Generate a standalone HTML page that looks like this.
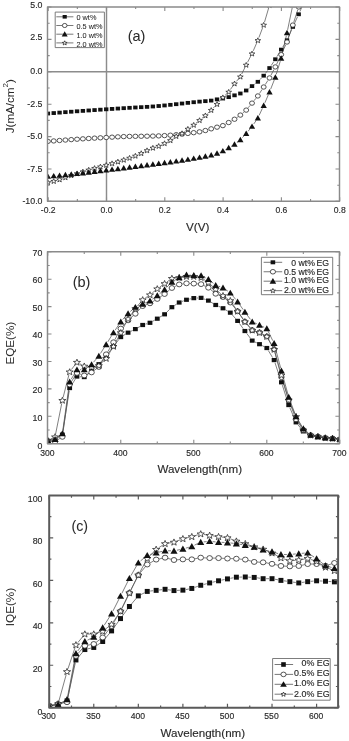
<!DOCTYPE html><html><head><meta charset="utf-8"><style>html,body{margin:0;padding:0;background:#fff;width:349px;height:741px;overflow:hidden}svg{display:block;will-change:transform}</style></head><body>
<svg width="349" height="741" viewBox="0 0 349 741" font-family='"Liberation Sans", sans-serif' fill="#2a2a2a" stroke-linejoin="round">
<defs><clipPath id="ca"><rect x="47.5" y="6.9" width="292.0" height="194.3"/></clipPath></defs>
<line x1="47.5" y1="71.80" x2="339.5" y2="71.80" stroke="#8c8c8c" stroke-width="1.45"/>
<line x1="106.50" y1="6.9" x2="106.50" y2="201.2" stroke="#8c8c8c" stroke-width="1.45"/>
<g clip-path="url(#ca)">
<path d="M243.02 92.12L243.52 91.87M248.59 88.70L249.62 87.92M254.43 84.34L255.44 83.59M259.92 79.63L261.61 77.86M265.51 73.30L267.69 70.44M271.17 65.56L273.69 61.75M276.90 56.68L279.63 52.18M282.77 47.07L285.42 42.82M288.21 37.53L291.64 29.65M294.10 24.18L297.42 17.00M299.90 11.53L303.29 3.95" stroke="#555" stroke-width="0.75" fill="none"/>
<path d="M225.51 124.22L226.04 123.94M231.30 121.05L231.91 120.71M236.97 117.50L237.91 116.84M242.63 113.15L243.91 112.06M248.11 107.80L250.10 105.43M253.91 100.80L255.96 98.28M259.49 93.44L262.05 89.52M265.31 84.49L267.89 80.48M270.92 75.31L273.95 69.56M276.63 64.20L279.89 57.33M282.44 51.89L285.75 44.74M287.99 39.18L291.87 27.91M293.77 22.22L297.75 9.88" stroke="#555" stroke-width="0.75" fill="none"/>
<path d="M219.80 152.20L220.09 152.08M225.50 149.49L226.06 149.18M231.28 146.23L231.94 145.84M236.90 142.48L237.98 141.65M242.41 137.63L244.14 135.79M248.08 131.27L250.13 128.74M253.75 123.96L256.13 120.58M259.12 115.40L262.42 108.31M264.87 102.83L268.33 94.79M270.62 89.25L274.25 80.03M276.23 74.37L280.30 61.14M281.85 55.35L286.34 35.75M287.62 29.89L292.23 7.72" stroke="#555" stroke-width="0.75" fill="none"/>
<path d="M138.12 154.64L138.47 154.48M143.90 151.93L144.35 151.71M149.80 149.20L150.12 149.07M161.42 144.79L161.82 144.60M167.21 141.97L167.70 141.72M172.81 138.61L173.77 137.92M178.91 134.87L179.33 134.66M184.43 131.55L185.48 130.75M190.35 127.25L191.22 126.66M196.04 123.09L197.20 122.16M201.85 118.37L203.05 117.39M207.57 113.45L208.99 112.15M213.29 107.98L214.93 106.30M218.99 101.88L220.89 99.69M225.04 95.37L226.51 93.99M230.42 89.48L232.80 86.09M236.46 81.34L238.42 79.00M241.69 74.02L244.86 67.61M247.57 62.26L250.64 56.30M253.23 50.89L256.65 43.09M258.91 37.54L262.62 27.75M264.53 22.07L268.67 8.00" stroke="#555" stroke-width="0.75" fill="none"/>
<rect x="45.71" y="111.62" width="4.37" height="3.80" fill="#111"/>
<rect x="51.55" y="111.16" width="4.37" height="3.80" fill="#111"/>
<rect x="57.38" y="110.71" width="4.37" height="3.80" fill="#111"/>
<rect x="63.21" y="110.26" width="4.37" height="3.80" fill="#111"/>
<rect x="69.04" y="109.82" width="4.37" height="3.80" fill="#111"/>
<rect x="74.88" y="109.39" width="4.37" height="3.80" fill="#111"/>
<rect x="80.71" y="108.98" width="4.37" height="3.80" fill="#111"/>
<rect x="86.54" y="108.57" width="4.37" height="3.80" fill="#111"/>
<rect x="92.37" y="108.17" width="4.37" height="3.80" fill="#111"/>
<rect x="98.20" y="107.78" width="4.37" height="3.80" fill="#111"/>
<rect x="104.03" y="107.40" width="4.37" height="3.80" fill="#111"/>
<rect x="109.87" y="107.02" width="4.37" height="3.80" fill="#111"/>
<rect x="115.70" y="106.65" width="4.37" height="3.80" fill="#111"/>
<rect x="121.53" y="106.28" width="4.37" height="3.80" fill="#111"/>
<rect x="127.36" y="105.93" width="4.37" height="3.80" fill="#111"/>
<rect x="133.19" y="105.59" width="4.37" height="3.80" fill="#111"/>
<rect x="139.03" y="105.28" width="4.37" height="3.80" fill="#111"/>
<rect x="144.86" y="104.96" width="4.37" height="3.80" fill="#111"/>
<rect x="150.69" y="104.58" width="4.37" height="3.80" fill="#111"/>
<rect x="156.52" y="104.11" width="4.37" height="3.80" fill="#111"/>
<rect x="162.35" y="103.56" width="4.37" height="3.80" fill="#111"/>
<rect x="168.19" y="102.94" width="4.37" height="3.80" fill="#111"/>
<rect x="174.02" y="102.29" width="4.37" height="3.80" fill="#111"/>
<rect x="179.85" y="101.62" width="4.37" height="3.80" fill="#111"/>
<rect x="185.68" y="100.96" width="4.37" height="3.80" fill="#111"/>
<rect x="191.51" y="100.32" width="4.37" height="3.80" fill="#111"/>
<rect x="197.35" y="99.73" width="4.37" height="3.80" fill="#111"/>
<rect x="203.18" y="99.25" width="4.37" height="3.80" fill="#111"/>
<rect x="209.01" y="98.70" width="4.37" height="3.80" fill="#111"/>
<rect x="214.84" y="97.46" width="4.37" height="3.80" fill="#111"/>
<rect x="220.68" y="96.60" width="4.37" height="3.80" fill="#111"/>
<rect x="226.51" y="95.22" width="4.37" height="3.80" fill="#111"/>
<rect x="232.34" y="93.44" width="4.37" height="3.80" fill="#111"/>
<rect x="238.17" y="91.59" width="4.37" height="3.80" fill="#111"/>
<rect x="244.00" y="88.59" width="4.37" height="3.80" fill="#111"/>
<rect x="249.84" y="84.22" width="4.37" height="3.80" fill="#111"/>
<rect x="255.67" y="79.91" width="4.37" height="3.80" fill="#111"/>
<rect x="261.50" y="73.79" width="4.37" height="3.80" fill="#111"/>
<rect x="267.33" y="66.16" width="4.37" height="3.80" fill="#111"/>
<rect x="273.16" y="57.35" width="4.37" height="3.80" fill="#111"/>
<rect x="279.00" y="47.71" width="4.37" height="3.80" fill="#111"/>
<rect x="284.83" y="38.38" width="4.37" height="3.80" fill="#111"/>
<rect x="290.66" y="25.00" width="4.37" height="3.80" fill="#111"/>
<rect x="296.49" y="12.37" width="4.37" height="3.80" fill="#111"/>
<ellipse cx="47.90" cy="141.41" rx="2.47" ry="2.18" fill="#fff" stroke="#2a2a2a" stroke-width="0.8"/>
<ellipse cx="53.73" cy="140.94" rx="2.47" ry="2.18" fill="#fff" stroke="#2a2a2a" stroke-width="0.8"/>
<ellipse cx="59.56" cy="140.48" rx="2.47" ry="2.18" fill="#fff" stroke="#2a2a2a" stroke-width="0.8"/>
<ellipse cx="65.40" cy="140.05" rx="2.47" ry="2.18" fill="#fff" stroke="#2a2a2a" stroke-width="0.8"/>
<ellipse cx="71.23" cy="139.63" rx="2.47" ry="2.18" fill="#fff" stroke="#2a2a2a" stroke-width="0.8"/>
<ellipse cx="77.06" cy="139.23" rx="2.47" ry="2.18" fill="#fff" stroke="#2a2a2a" stroke-width="0.8"/>
<ellipse cx="82.89" cy="138.85" rx="2.47" ry="2.18" fill="#fff" stroke="#2a2a2a" stroke-width="0.8"/>
<ellipse cx="88.72" cy="138.49" rx="2.47" ry="2.18" fill="#fff" stroke="#2a2a2a" stroke-width="0.8"/>
<ellipse cx="94.56" cy="138.14" rx="2.47" ry="2.18" fill="#fff" stroke="#2a2a2a" stroke-width="0.8"/>
<ellipse cx="100.39" cy="137.81" rx="2.47" ry="2.18" fill="#fff" stroke="#2a2a2a" stroke-width="0.8"/>
<ellipse cx="106.22" cy="137.49" rx="2.47" ry="2.18" fill="#fff" stroke="#2a2a2a" stroke-width="0.8"/>
<ellipse cx="112.05" cy="137.17" rx="2.47" ry="2.18" fill="#fff" stroke="#2a2a2a" stroke-width="0.8"/>
<ellipse cx="117.88" cy="136.86" rx="2.47" ry="2.18" fill="#fff" stroke="#2a2a2a" stroke-width="0.8"/>
<ellipse cx="123.72" cy="136.59" rx="2.47" ry="2.18" fill="#fff" stroke="#2a2a2a" stroke-width="0.8"/>
<ellipse cx="129.55" cy="136.41" rx="2.47" ry="2.18" fill="#fff" stroke="#2a2a2a" stroke-width="0.8"/>
<ellipse cx="135.38" cy="136.31" rx="2.47" ry="2.18" fill="#fff" stroke="#2a2a2a" stroke-width="0.8"/>
<ellipse cx="141.21" cy="136.25" rx="2.47" ry="2.18" fill="#fff" stroke="#2a2a2a" stroke-width="0.8"/>
<ellipse cx="147.04" cy="136.19" rx="2.47" ry="2.18" fill="#fff" stroke="#2a2a2a" stroke-width="0.8"/>
<ellipse cx="152.88" cy="136.08" rx="2.47" ry="2.18" fill="#fff" stroke="#2a2a2a" stroke-width="0.8"/>
<ellipse cx="158.71" cy="135.89" rx="2.47" ry="2.18" fill="#fff" stroke="#2a2a2a" stroke-width="0.8"/>
<ellipse cx="164.54" cy="135.59" rx="2.47" ry="2.18" fill="#fff" stroke="#2a2a2a" stroke-width="0.8"/>
<ellipse cx="170.37" cy="135.19" rx="2.47" ry="2.18" fill="#fff" stroke="#2a2a2a" stroke-width="0.8"/>
<ellipse cx="176.20" cy="134.69" rx="2.47" ry="2.18" fill="#fff" stroke="#2a2a2a" stroke-width="0.8"/>
<ellipse cx="182.04" cy="134.11" rx="2.47" ry="2.18" fill="#fff" stroke="#2a2a2a" stroke-width="0.8"/>
<ellipse cx="187.87" cy="133.44" rx="2.47" ry="2.18" fill="#fff" stroke="#2a2a2a" stroke-width="0.8"/>
<ellipse cx="193.70" cy="132.68" rx="2.47" ry="2.18" fill="#fff" stroke="#2a2a2a" stroke-width="0.8"/>
<ellipse cx="199.53" cy="131.85" rx="2.47" ry="2.18" fill="#fff" stroke="#2a2a2a" stroke-width="0.8"/>
<ellipse cx="205.36" cy="130.53" rx="2.47" ry="2.18" fill="#fff" stroke="#2a2a2a" stroke-width="0.8"/>
<ellipse cx="211.20" cy="128.82" rx="2.47" ry="2.18" fill="#fff" stroke="#2a2a2a" stroke-width="0.8"/>
<ellipse cx="217.03" cy="127.17" rx="2.47" ry="2.18" fill="#fff" stroke="#2a2a2a" stroke-width="0.8"/>
<ellipse cx="222.86" cy="125.63" rx="2.47" ry="2.18" fill="#fff" stroke="#2a2a2a" stroke-width="0.8"/>
<ellipse cx="228.69" cy="122.53" rx="2.47" ry="2.18" fill="#fff" stroke="#2a2a2a" stroke-width="0.8"/>
<ellipse cx="234.52" cy="119.23" rx="2.47" ry="2.18" fill="#fff" stroke="#2a2a2a" stroke-width="0.8"/>
<ellipse cx="240.36" cy="115.10" rx="2.47" ry="2.18" fill="#fff" stroke="#2a2a2a" stroke-width="0.8"/>
<ellipse cx="246.19" cy="110.11" rx="2.47" ry="2.18" fill="#fff" stroke="#2a2a2a" stroke-width="0.8"/>
<ellipse cx="252.02" cy="103.12" rx="2.47" ry="2.18" fill="#fff" stroke="#2a2a2a" stroke-width="0.8"/>
<ellipse cx="257.85" cy="95.95" rx="2.47" ry="2.18" fill="#fff" stroke="#2a2a2a" stroke-width="0.8"/>
<ellipse cx="263.68" cy="87.01" rx="2.47" ry="2.18" fill="#fff" stroke="#2a2a2a" stroke-width="0.8"/>
<ellipse cx="269.52" cy="77.96" rx="2.47" ry="2.18" fill="#fff" stroke="#2a2a2a" stroke-width="0.8"/>
<ellipse cx="275.35" cy="66.91" rx="2.47" ry="2.18" fill="#fff" stroke="#2a2a2a" stroke-width="0.8"/>
<ellipse cx="281.18" cy="54.62" rx="2.47" ry="2.18" fill="#fff" stroke="#2a2a2a" stroke-width="0.8"/>
<ellipse cx="287.01" cy="42.01" rx="2.47" ry="2.18" fill="#fff" stroke="#2a2a2a" stroke-width="0.8"/>
<ellipse cx="292.84" cy="25.07" rx="2.47" ry="2.18" fill="#fff" stroke="#2a2a2a" stroke-width="0.8"/>
<ellipse cx="298.68" cy="7.02" rx="2.47" ry="2.18" fill="#fff" stroke="#2a2a2a" stroke-width="0.8"/>
<polygon points="47.90,179.87 48.64,181.67 50.75,181.75 49.10,182.95 49.66,184.79 47.90,183.74 46.14,184.79 46.70,182.95 45.05,181.75 47.16,181.67" fill="#fff" stroke="#222" stroke-width="0.75"/>
<polygon points="53.73,178.61 54.47,180.40 56.58,180.49 54.93,181.69 55.49,183.53 53.73,182.48 51.97,183.53 52.53,181.69 50.89,180.49 52.99,180.40" fill="#fff" stroke="#222" stroke-width="0.75"/>
<polygon points="59.56,177.01 60.31,178.80 62.41,178.89 60.76,180.08 61.32,181.93 59.56,180.88 57.81,181.93 58.36,180.08 56.72,178.89 58.82,178.80" fill="#fff" stroke="#222" stroke-width="0.75"/>
<polygon points="65.40,174.94 66.14,176.73 68.24,176.82 66.60,178.02 67.15,179.86 65.40,178.81 63.64,179.86 64.20,178.02 62.55,176.82 64.65,176.73" fill="#fff" stroke="#222" stroke-width="0.75"/>
<polygon points="71.23,172.87 71.97,174.66 74.07,174.75 72.43,175.94 72.99,177.79 71.23,176.74 69.47,177.79 70.03,175.94 68.38,174.75 70.49,174.66" fill="#fff" stroke="#222" stroke-width="0.75"/>
<polygon points="77.06,170.95 77.80,172.74 79.91,172.83 78.26,174.02 78.82,175.87 77.06,174.82 75.30,175.87 75.86,174.02 74.21,172.83 76.32,172.74" fill="#fff" stroke="#222" stroke-width="0.75"/>
<polygon points="82.89,169.10 83.63,170.89 85.74,170.98 84.09,172.18 84.65,174.02 82.89,172.97 81.13,174.02 81.69,172.18 80.05,170.98 82.15,170.89" fill="#fff" stroke="#222" stroke-width="0.75"/>
<polygon points="88.72,167.31 89.47,169.10 91.57,169.19 89.92,170.38 90.48,172.23 88.72,171.18 86.97,172.23 87.52,170.38 85.88,169.19 87.98,169.10" fill="#fff" stroke="#222" stroke-width="0.75"/>
<polygon points="94.56,165.63 95.30,167.42 97.40,167.51 95.76,168.70 96.31,170.55 94.56,169.50 92.80,170.55 93.36,168.70 91.71,167.51 93.81,167.42" fill="#fff" stroke="#222" stroke-width="0.75"/>
<polygon points="100.39,164.13 101.13,165.93 103.23,166.01 101.59,167.21 102.15,169.05 100.39,168.00 98.63,169.05 99.19,167.21 97.54,166.01 99.65,165.93" fill="#fff" stroke="#222" stroke-width="0.75"/>
<polygon points="106.22,162.52 106.96,164.32 109.07,164.40 107.42,165.60 107.98,167.45 106.22,166.39 104.46,167.45 105.02,165.60 103.37,164.40 105.48,164.32" fill="#fff" stroke="#222" stroke-width="0.75"/>
<polygon points="112.05,160.88 112.79,162.67 114.90,162.76 113.25,163.95 113.81,165.80 112.05,164.75 110.29,165.80 110.85,163.95 109.21,162.76 111.31,162.67" fill="#fff" stroke="#222" stroke-width="0.75"/>
<polygon points="117.88,159.17 118.63,160.97 120.73,161.05 119.08,162.25 119.64,164.10 117.88,163.04 116.13,164.10 116.68,162.25 115.04,161.05 117.14,160.97" fill="#fff" stroke="#222" stroke-width="0.75"/>
<polygon points="123.72,157.37 124.46,159.16 126.56,159.25 124.92,160.45 125.47,162.29 123.72,161.24 121.96,162.29 122.52,160.45 120.87,159.25 122.97,159.16" fill="#fff" stroke="#222" stroke-width="0.75"/>
<polygon points="129.55,155.44 130.29,157.23 132.39,157.32 130.75,158.51 131.31,160.36 129.55,159.31 127.79,160.36 128.35,158.51 126.70,157.32 128.81,157.23" fill="#fff" stroke="#222" stroke-width="0.75"/>
<polygon points="135.38,153.34 136.12,155.13 138.23,155.22 136.58,156.41 137.14,158.26 135.38,157.20 133.62,158.26 134.18,156.41 132.53,155.22 134.64,155.13" fill="#fff" stroke="#222" stroke-width="0.75"/>
<polygon points="141.21,150.74 141.95,152.53 144.06,152.62 142.41,153.81 142.97,155.66 141.21,154.61 139.45,155.66 140.01,153.81 138.37,152.62 140.47,152.53" fill="#fff" stroke="#222" stroke-width="0.75"/>
<polygon points="147.04,147.87 147.79,149.66 149.89,149.75 148.24,150.94 148.80,152.79 147.04,151.74 145.29,152.79 145.84,150.94 144.20,149.75 146.30,149.66" fill="#fff" stroke="#222" stroke-width="0.75"/>
<polygon points="152.88,145.36 153.62,147.15 155.72,147.24 154.08,148.43 154.63,150.28 152.88,149.23 151.12,150.28 151.68,148.43 150.03,147.24 152.13,147.15" fill="#fff" stroke="#222" stroke-width="0.75"/>
<polygon points="158.71,143.54 159.45,145.33 161.55,145.42 159.91,146.61 160.47,148.46 158.71,147.41 156.95,148.46 157.51,146.61 155.86,145.42 157.97,145.33" fill="#fff" stroke="#222" stroke-width="0.75"/>
<polygon points="164.54,140.81 165.28,142.60 167.39,142.69 165.74,143.88 166.30,145.73 164.54,144.68 162.78,145.73 163.34,143.88 161.69,142.69 163.80,142.60" fill="#fff" stroke="#222" stroke-width="0.75"/>
<polygon points="170.37,137.84 171.11,139.63 173.22,139.72 171.57,140.91 172.13,142.76 170.37,141.70 168.61,142.76 169.17,140.91 167.53,139.72 169.63,139.63" fill="#fff" stroke="#222" stroke-width="0.75"/>
<polygon points="176.20,133.65 176.95,135.44 179.05,135.53 177.40,136.73 177.96,138.57 176.20,137.52 174.45,138.57 175.00,136.73 173.36,135.53 175.46,135.44" fill="#fff" stroke="#222" stroke-width="0.75"/>
<polygon points="182.04,130.84 182.78,132.63 184.88,132.72 183.24,133.91 183.79,135.76 182.04,134.70 180.28,135.76 180.84,133.91 179.19,132.72 181.29,132.63" fill="#fff" stroke="#222" stroke-width="0.75"/>
<polygon points="187.87,126.42 188.61,128.21 190.71,128.30 189.07,129.49 189.63,131.34 187.87,130.29 186.11,131.34 186.67,129.49 185.02,128.30 187.13,128.21" fill="#fff" stroke="#222" stroke-width="0.75"/>
<polygon points="193.70,122.45 194.44,124.25 196.55,124.33 194.90,125.53 195.46,127.37 193.70,126.32 191.94,127.37 192.50,125.53 190.85,124.33 192.96,124.25" fill="#fff" stroke="#222" stroke-width="0.75"/>
<polygon points="199.53,117.75 200.27,119.55 202.38,119.63 200.73,120.83 201.29,122.67 199.53,121.62 197.77,122.67 198.33,120.83 196.69,119.63 198.79,119.55" fill="#fff" stroke="#222" stroke-width="0.75"/>
<polygon points="205.36,112.96 206.11,114.76 208.21,114.84 206.56,116.04 207.12,117.89 205.36,116.83 203.61,117.89 204.16,116.04 202.52,114.84 204.62,114.76" fill="#fff" stroke="#222" stroke-width="0.75"/>
<polygon points="211.20,107.60 211.94,109.39 214.04,109.48 212.40,110.68 212.95,112.52 211.20,111.47 209.44,112.52 210.00,110.68 208.35,109.48 210.45,109.39" fill="#fff" stroke="#222" stroke-width="0.75"/>
<polygon points="217.03,101.63 217.77,103.42 219.87,103.51 218.23,104.70 218.79,106.55 217.03,105.50 215.27,106.55 215.83,104.70 214.18,103.51 216.29,103.42" fill="#fff" stroke="#222" stroke-width="0.75"/>
<polygon points="222.86,94.91 223.60,96.70 225.71,96.79 224.06,97.98 224.62,99.83 222.86,98.78 221.10,99.83 221.66,97.98 220.01,96.79 222.12,96.70" fill="#fff" stroke="#222" stroke-width="0.75"/>
<polygon points="228.69,89.42 229.43,91.21 231.54,91.30 229.89,92.49 230.45,94.34 228.69,93.28 226.93,94.34 227.49,92.49 225.85,91.30 227.95,91.21" fill="#fff" stroke="#222" stroke-width="0.75"/>
<polygon points="234.52,81.12 235.27,82.91 237.37,83.00 235.72,84.19 236.28,86.04 234.52,84.98 232.77,86.04 233.32,84.19 231.68,83.00 233.78,82.91" fill="#fff" stroke="#222" stroke-width="0.75"/>
<polygon points="240.36,74.19 241.10,75.98 243.20,76.07 241.56,77.26 242.11,79.11 240.36,78.06 238.60,79.11 239.16,77.26 237.51,76.07 239.61,75.98" fill="#fff" stroke="#222" stroke-width="0.75"/>
<polygon points="246.19,62.41 246.93,64.20 249.03,64.28 247.39,65.48 247.95,67.33 246.19,66.27 244.43,67.33 244.99,65.48 243.34,64.28 245.45,64.20" fill="#fff" stroke="#222" stroke-width="0.75"/>
<polygon points="252.02,51.12 252.76,52.91 254.87,53.00 253.22,54.19 253.78,56.04 252.02,54.99 250.26,56.04 250.82,54.19 249.17,53.00 251.28,52.91" fill="#fff" stroke="#222" stroke-width="0.75"/>
<polygon points="257.85,37.82 258.59,39.62 260.70,39.70 259.05,40.90 259.61,42.74 257.85,41.69 256.09,42.74 256.65,40.90 255.01,39.70 257.11,39.62" fill="#fff" stroke="#222" stroke-width="0.75"/>
<polygon points="263.68,22.43 264.43,24.22 266.53,24.31 264.88,25.50 265.44,27.35 263.68,26.30 261.93,27.35 262.48,25.50 260.84,24.31 262.94,24.22" fill="#fff" stroke="#222" stroke-width="0.75"/>
<polygon points="269.52,2.60 270.26,4.40 272.36,4.48 270.72,5.68 271.27,7.52 269.52,6.47 267.76,7.52 268.32,5.68 266.67,4.48 268.77,4.40" fill="#fff" stroke="#222" stroke-width="0.75"/>
<path d="M47.90 173.43L51.03 178.85L44.77 178.85Z" fill="#111"/>
<path d="M53.73 172.94L56.87 178.35L50.60 178.35Z" fill="#111"/>
<path d="M59.56 172.41L62.70 177.83L56.43 177.83Z" fill="#111"/>
<path d="M65.40 171.86L68.53 177.27L62.26 177.27Z" fill="#111"/>
<path d="M71.23 171.27L74.36 176.68L68.09 176.68Z" fill="#111"/>
<path d="M77.06 170.64L80.20 176.05L73.92 176.05Z" fill="#111"/>
<path d="M82.89 169.97L86.03 175.38L79.76 175.38Z" fill="#111"/>
<path d="M88.72 169.27L91.86 174.69L85.59 174.69Z" fill="#111"/>
<path d="M94.56 168.56L97.69 173.98L91.42 173.98Z" fill="#111"/>
<path d="M100.39 167.85L103.52 173.27L97.25 173.27Z" fill="#111"/>
<path d="M106.22 167.15L109.36 172.57L103.08 172.57Z" fill="#111"/>
<path d="M112.05 166.46L115.19 171.87L108.92 171.87Z" fill="#111"/>
<path d="M117.88 165.76L121.02 171.17L114.75 171.17Z" fill="#111"/>
<path d="M123.72 165.04L126.85 170.46L120.58 170.46Z" fill="#111"/>
<path d="M129.55 164.31L132.68 169.72L126.41 169.72Z" fill="#111"/>
<path d="M135.38 163.54L138.51 168.96L132.25 168.96Z" fill="#111"/>
<path d="M141.21 162.77L144.35 168.19L138.08 168.19Z" fill="#111"/>
<path d="M147.04 162.02L150.18 167.44L143.91 167.44Z" fill="#111"/>
<path d="M152.88 161.28L156.01 166.70L149.74 166.70Z" fill="#111"/>
<path d="M158.71 160.54L161.84 165.95L155.57 165.95Z" fill="#111"/>
<path d="M164.54 159.78L167.67 165.20L161.41 165.20Z" fill="#111"/>
<path d="M170.37 159.00L173.51 164.42L167.24 164.42Z" fill="#111"/>
<path d="M176.20 158.19L179.34 163.60L173.07 163.60Z" fill="#111"/>
<path d="M182.04 157.33L185.17 162.75L178.90 162.75Z" fill="#111"/>
<path d="M187.87 156.42L191.00 161.84L184.73 161.84Z" fill="#111"/>
<path d="M193.70 155.45L196.83 160.86L190.56 160.86Z" fill="#111"/>
<path d="M199.53 154.40L202.67 159.81L196.40 159.81Z" fill="#111"/>
<path d="M205.36 153.27L208.50 158.68L202.23 158.68Z" fill="#111"/>
<path d="M211.20 152.04L214.33 157.45L208.06 157.45Z" fill="#111"/>
<path d="M217.03 150.35L220.16 155.77L213.89 155.77Z" fill="#111"/>
<path d="M222.86 147.91L226.00 153.33L219.73 153.33Z" fill="#111"/>
<path d="M228.69 144.74L231.83 150.16L225.56 150.16Z" fill="#111"/>
<path d="M234.52 141.31L237.66 146.72L231.39 146.72Z" fill="#111"/>
<path d="M240.36 136.81L243.49 142.23L237.22 142.23Z" fill="#111"/>
<path d="M246.19 130.59L249.32 136.01L243.05 136.01Z" fill="#111"/>
<path d="M252.02 123.40L255.16 128.82L248.89 128.82Z" fill="#111"/>
<path d="M257.85 115.12L260.99 120.53L254.72 120.53Z" fill="#111"/>
<path d="M263.68 102.58L266.82 108.00L260.55 108.00Z" fill="#111"/>
<path d="M269.52 89.03L272.65 94.44L266.38 94.44Z" fill="#111"/>
<path d="M275.35 74.23L278.48 79.64L272.21 79.64Z" fill="#111"/>
<path d="M281.18 55.27L284.31 60.68L278.05 60.68Z" fill="#111"/>
<path d="M287.01 29.82L290.15 35.23L283.88 35.23Z" fill="#111"/>
<path d="M292.84 1.78L295.98 7.19L289.71 7.19Z" fill="#111"/>
</g>
<rect x="47.5" y="6.9" width="292.0" height="194.29999999999998" fill="none" stroke="#8a8a8a" stroke-width="1.45"/>
<path d="M48.20 201.2v-4M48.20 6.9v4M77.35 201.2v-2.2M77.35 6.9v2.2M106.50 201.2v-4M106.50 6.9v4M135.65 201.2v-2.2M135.65 6.9v2.2M164.80 201.2v-4M164.80 6.9v4M193.95 201.2v-2.2M193.95 6.9v2.2M223.10 201.2v-4M223.10 6.9v4M252.25 201.2v-2.2M252.25 6.9v2.2M281.40 201.2v-4M281.40 6.9v4M310.55 201.2v-2.2M310.55 6.9v2.2M339.70 201.2v-4M339.70 6.9v4M47.5 201.40h4M339.5 201.40h-4M47.5 185.20h2.2M339.5 185.20h-2.2M47.5 169.00h4M339.5 169.00h-4M47.5 152.80h2.2M339.5 152.80h-2.2M47.5 136.60h4M339.5 136.60h-4M47.5 120.40h2.2M339.5 120.40h-2.2M47.5 104.20h4M339.5 104.20h-4M47.5 88.00h2.2M339.5 88.00h-2.2M47.5 71.80h4M339.5 71.80h-4M47.5 55.60h2.2M339.5 55.60h-2.2M47.5 39.40h4M339.5 39.40h-4M47.5 23.20h2.2M339.5 23.20h-2.2M47.5 7.00h4M339.5 7.00h-4" stroke="#8a8a8a" stroke-width="1.1" fill="none"/>
<text x="42.5" y="204.3" font-size="8.8" text-anchor="end" stroke="#2a2a2a" stroke-width="0.15" >-10.0</text>
<text x="42.5" y="171.7" font-size="8.8" text-anchor="end" stroke="#2a2a2a" stroke-width="0.15" >-7.5</text>
<text x="42.5" y="138.6" font-size="8.8" text-anchor="end" stroke="#2a2a2a" stroke-width="0.15" >-5.0</text>
<text x="42.5" y="107.0" font-size="8.8" text-anchor="end" stroke="#2a2a2a" stroke-width="0.15" >-2.5</text>
<text x="42.5" y="73.6" font-size="8.8" text-anchor="end" stroke="#2a2a2a" stroke-width="0.15" >0.0</text>
<text x="42.5" y="39.9" font-size="8.8" text-anchor="end" stroke="#2a2a2a" stroke-width="0.15" >2.5</text>
<text x="42.5" y="7.9" font-size="8.8" text-anchor="end" stroke="#2a2a2a" stroke-width="0.15" >5.0</text>
<text x="48.2" y="213.3" font-size="8.6" text-anchor="middle" stroke="#2a2a2a" stroke-width="0.15" >-0.2</text>
<text x="106.5" y="213.3" font-size="8.6" text-anchor="middle" stroke="#2a2a2a" stroke-width="0.15" >0.0</text>
<text x="164.8" y="213.3" font-size="8.6" text-anchor="middle" stroke="#2a2a2a" stroke-width="0.15" >0.2</text>
<text x="223.1" y="213.3" font-size="8.6" text-anchor="middle" stroke="#2a2a2a" stroke-width="0.15" >0.4</text>
<text x="281.4" y="213.3" font-size="8.6" text-anchor="middle" stroke="#2a2a2a" stroke-width="0.15" >0.6</text>
<text x="339.7" y="213.3" font-size="8.6" text-anchor="middle" stroke="#2a2a2a" stroke-width="0.15" >0.8</text>
<text x="197.7" y="230.9" font-size="11.7" text-anchor="middle" stroke="#2a2a2a" stroke-width="0.15" >V(V)</text>
<text transform="translate(13.6,106.2) rotate(-90)" font-size="11.6" text-anchor="middle">J(mA/cm<tspan font-size="8" dy="-6">2</tspan><tspan dy="6">)</tspan></text>
<text x="136.6" y="41.0" font-size="14.5" text-anchor="middle" stroke="#2a2a2a" stroke-width="0.05" >(a)</text>
<rect x="55.2" y="12.1" width="49.2" height="35.5" fill="#fff" stroke="#6e6e6e" stroke-width="0.9"/>
<line x1="56.3" y1="16.80" x2="73.4" y2="16.80" stroke="#555" stroke-width="0.8"/>
<rect x="62.63" y="15.00" width="4.14" height="3.60" fill="#111"/>
<text x="76.5" y="19.50" font-size="7.3" text-anchor="start" stroke="#2a2a2a" stroke-width="0.06" >0 wt%</text>
<line x1="56.3" y1="25.50" x2="73.4" y2="25.50" stroke="#555" stroke-width="0.8"/>
<ellipse cx="64.70" cy="25.50" rx="2.34" ry="2.07" fill="#fff" stroke="#2a2a2a" stroke-width="0.8"/>
<text x="76.5" y="28.60" font-size="7.3" text-anchor="start" stroke="#2a2a2a" stroke-width="0.06" >0.5 wt%</text>
<line x1="56.3" y1="34.20" x2="73.4" y2="34.20" stroke="#555" stroke-width="0.8"/>
<path d="M64.70 31.34L67.67 36.47L61.73 36.47Z" fill="#111"/>
<text x="76.5" y="37.70" font-size="7.3" text-anchor="start" stroke="#2a2a2a" stroke-width="0.06" >1.0 wt%</text>
<line x1="56.3" y1="42.90" x2="73.4" y2="42.90" stroke="#555" stroke-width="0.8"/>
<polygon points="64.70,40.80 65.33,42.31 67.11,42.39 65.72,43.40 66.19,44.96 64.70,44.07 63.21,44.96 63.68,43.40 62.29,42.39 64.07,42.31" fill="#fff" stroke="#222" stroke-width="0.75"/>
<text x="76.5" y="46.60" font-size="7.3" text-anchor="start" stroke="#2a2a2a" stroke-width="0.06" >2.0 wt%</text>
<defs><clipPath id="cb"><rect x="47.5" y="251.8" width="291.9" height="191.9"/></clipPath></defs>
<g clip-path="url(#cb)">
<path d="M50.70 440.41L52.10 440.14M57.54 437.91L59.87 436.33M62.82 431.69L69.19 391.01M71.26 385.52L75.35 379.07M79.95 376.76L81.27 376.86M86.57 375.17L89.25 372.96M93.75 369.00L96.68 366.25M100.86 361.96L104.17 358.22M107.98 353.59L111.65 348.77M115.32 344.02L118.92 339.42M123.34 335.51L125.50 334.22M130.77 331.36L132.68 330.42M137.99 327.64L140.06 326.47M145.55 324.13L147.10 323.67M152.59 321.33L154.67 320.16M159.85 317.15L162.01 315.85M166.73 312.21L169.74 309.27M174.41 305.56L176.66 304.13M181.99 301.46L183.68 300.83M189.41 299.12L190.86 298.79M196.79 298.02L198.09 297.97M203.90 298.91L205.59 299.54M210.97 302.14L213.12 303.44M218.43 306.22L220.26 307.04M225.57 309.82L227.73 311.11M232.29 314.90L235.61 318.64M239.35 323.32L243.15 328.59M246.72 333.41L250.39 338.23M254.90 341.94L256.81 342.87M262.16 345.58L264.15 346.63M268.36 350.59L272.56 357.52M275.05 362.94L280.48 379.44M282.33 385.15L287.80 402.19M289.88 407.81L294.85 419.55M297.90 424.65L301.44 429.03M305.93 432.84L308.01 434.00M313.57 436.03L314.98 436.29M320.89 437.29L322.26 437.50M328.22 438.17L329.54 438.27M335.51 438.83L336.85 438.98" stroke="#555" stroke-width="0.75" fill="none"/>
<path d="M50.74 441.18L52.06 441.28M57.58 439.89L59.83 438.46M62.77 433.88L69.24 387.46M71.26 381.95L75.35 375.50M79.80 373.93L81.42 374.48M87.03 374.29L88.79 373.57M93.96 370.62L96.47 368.74M100.37 364.34L104.66 356.93M107.72 351.76L111.91 344.83M114.88 339.62L119.36 331.21M122.76 326.32L126.08 322.58M130.30 318.33L133.15 315.76M137.44 311.58L140.61 308.25M145.48 305.03L147.17 304.39M152.55 301.79L154.71 300.50M159.77 297.27L162.10 295.70M166.90 292.11L169.57 289.90M174.58 286.67L176.49 285.74M182.15 283.98L183.52 283.77M189.49 283.44L190.79 283.49M196.78 283.83L198.10 283.92M203.79 285.46L205.70 286.40M210.71 289.62L213.38 291.83M218.43 294.98L220.26 295.80M225.40 298.83L227.90 300.72M232.22 304.82L235.68 308.98M239.32 313.75L243.18 319.25M246.86 323.98L250.25 327.93M255.08 331.07L256.63 331.54M262.12 333.87L264.20 335.04M268.29 339.12L272.63 346.78M274.88 352.30L280.65 374.18M282.32 379.94L287.81 397.25M289.78 402.92L294.95 416.50M297.71 421.78L301.63 427.52M305.76 431.74L308.18 433.46M313.57 435.76L314.98 436.02M320.87 437.13L322.28 437.39M328.22 438.17L329.54 438.27M335.51 438.83L336.85 438.98" stroke="#555" stroke-width="0.75" fill="none"/>
<path d="M50.72 439.96L52.09 439.76M57.41 437.46L60.00 435.41M62.77 430.59L69.24 384.71M71.21 379.18L75.40 372.25M79.96 369.68L81.26 369.68M86.70 367.94L89.12 366.21M93.52 362.20L96.91 358.25M100.47 353.44L104.56 346.99M107.75 341.91L111.89 335.22M115.13 330.18L119.11 324.20M122.76 319.46L126.08 315.73M130.34 311.52L133.10 309.14M138.15 306.03L139.90 305.31M145.41 302.93L147.24 302.10M152.42 299.13L154.84 297.41M159.59 293.75L162.27 291.54M166.65 287.46L169.82 284.13M174.46 280.41L176.61 279.11M181.99 276.51L183.68 275.88M189.48 275.05L190.80 275.15M196.79 275.49L198.09 275.54M203.79 276.97L205.70 277.90M210.71 281.12L213.38 283.33M218.54 286.21L220.16 286.75M225.44 289.45L227.86 291.18M232.22 295.23L235.68 299.39M239.32 304.15L243.18 309.65M246.72 314.50L250.39 319.32M254.94 322.94L256.77 323.76M262.20 326.31L264.11 327.24M268.14 331.25L272.78 340.67M274.88 346.26L280.64 367.88M282.22 373.67L287.91 394.20M289.77 399.90L294.96 413.75M297.57 419.13L301.77 426.06M305.59 430.58L308.35 432.97M313.55 435.59L315.00 435.91M320.89 437.02L322.26 437.22M328.22 437.89L329.54 437.99M335.51 438.55L336.85 438.70" stroke="#555" stroke-width="0.75" fill="none"/>
<path d="M50.45 439.09L52.36 438.16M55.64 433.90L61.76 403.33M63.10 397.48L68.91 374.78M71.47 369.49L75.14 364.67M79.61 363.68L81.60 364.72M87.23 366.56L88.60 366.77M94.49 366.55L95.94 366.23M101.01 363.47L104.02 360.54M107.72 355.88L111.91 348.95M114.88 343.73L119.36 335.32M122.18 330.02L126.66 321.61M129.79 316.51L133.65 311.00M137.29 306.24L140.76 302.08M145.16 298.10L147.49 296.52M152.29 292.93L154.97 290.72M159.72 287.07L162.14 285.34M167.02 281.86L169.44 280.13M174.87 278.06L176.20 277.91M182.15 277.12L183.52 276.92M189.49 276.47L190.79 276.47M196.76 276.92L198.13 277.12M203.58 279.25L205.91 280.82M210.58 284.56L213.51 287.30M217.97 291.32L220.73 293.70M225.48 297.34L227.81 298.92M231.99 303.07L235.91 308.81M239.32 313.75L243.18 319.25M246.86 323.98L250.25 327.93M255.05 331.17L256.67 331.71M262.16 334.07L264.15 335.11M268.29 339.12L272.63 346.78M274.93 352.28L280.60 372.28M282.26 378.04L287.87 397.23M289.93 402.85L294.80 413.82M297.45 419.20L301.89 427.36M305.76 431.74L308.18 433.46M313.57 435.76L314.98 436.02M320.87 437.13L322.28 437.39M328.22 438.17L329.54 438.27M335.51 438.83L336.85 438.98" stroke="#555" stroke-width="0.75" fill="none"/>
<rect x="45.34" y="438.86" width="4.83" height="4.20" fill="#111"/>
<rect x="52.64" y="437.49" width="4.83" height="4.20" fill="#111"/>
<rect x="59.94" y="432.55" width="4.83" height="4.20" fill="#111"/>
<rect x="67.24" y="385.95" width="4.83" height="4.20" fill="#111"/>
<rect x="74.54" y="374.43" width="4.83" height="4.20" fill="#111"/>
<rect x="81.84" y="374.98" width="4.83" height="4.20" fill="#111"/>
<rect x="89.15" y="368.95" width="4.83" height="4.20" fill="#111"/>
<rect x="96.45" y="362.10" width="4.83" height="4.20" fill="#111"/>
<rect x="103.75" y="353.87" width="4.83" height="4.20" fill="#111"/>
<rect x="111.05" y="344.28" width="4.83" height="4.20" fill="#111"/>
<rect x="118.35" y="334.96" width="4.83" height="4.20" fill="#111"/>
<rect x="125.66" y="330.57" width="4.83" height="4.20" fill="#111"/>
<rect x="132.96" y="327.01" width="4.83" height="4.20" fill="#111"/>
<rect x="140.26" y="322.90" width="4.83" height="4.20" fill="#111"/>
<rect x="147.56" y="320.70" width="4.83" height="4.20" fill="#111"/>
<rect x="154.87" y="316.59" width="4.83" height="4.20" fill="#111"/>
<rect x="162.17" y="312.20" width="4.83" height="4.20" fill="#111"/>
<rect x="169.47" y="305.08" width="4.83" height="4.20" fill="#111"/>
<rect x="176.77" y="300.42" width="4.83" height="4.20" fill="#111"/>
<rect x="184.07" y="297.67" width="4.83" height="4.20" fill="#111"/>
<rect x="191.38" y="296.03" width="4.83" height="4.20" fill="#111"/>
<rect x="198.68" y="295.75" width="4.83" height="4.20" fill="#111"/>
<rect x="205.98" y="298.50" width="4.83" height="4.20" fill="#111"/>
<rect x="213.28" y="302.88" width="4.83" height="4.20" fill="#111"/>
<rect x="220.58" y="306.17" width="4.83" height="4.20" fill="#111"/>
<rect x="227.88" y="310.56" width="4.83" height="4.20" fill="#111"/>
<rect x="235.19" y="318.78" width="4.83" height="4.20" fill="#111"/>
<rect x="242.49" y="328.93" width="4.83" height="4.20" fill="#111"/>
<rect x="249.79" y="338.52" width="4.83" height="4.20" fill="#111"/>
<rect x="257.09" y="342.09" width="4.83" height="4.20" fill="#111"/>
<rect x="264.39" y="345.92" width="4.83" height="4.20" fill="#111"/>
<rect x="271.70" y="357.99" width="4.83" height="4.20" fill="#111"/>
<rect x="279.00" y="380.19" width="4.83" height="4.20" fill="#111"/>
<rect x="286.30" y="402.94" width="4.83" height="4.20" fill="#111"/>
<rect x="293.60" y="420.22" width="4.83" height="4.20" fill="#111"/>
<rect x="300.90" y="429.26" width="4.83" height="4.20" fill="#111"/>
<rect x="308.21" y="433.37" width="4.83" height="4.20" fill="#111"/>
<rect x="315.51" y="434.75" width="4.83" height="4.20" fill="#111"/>
<rect x="322.81" y="435.84" width="4.83" height="4.20" fill="#111"/>
<rect x="330.11" y="436.39" width="4.83" height="4.20" fill="#111"/>
<rect x="337.41" y="437.21" width="4.83" height="4.20" fill="#111"/>
<ellipse cx="47.75" cy="440.96" rx="2.73" ry="2.42" fill="#fff" stroke="#2a2a2a" stroke-width="0.8"/>
<ellipse cx="55.05" cy="441.51" rx="2.73" ry="2.42" fill="#fff" stroke="#2a2a2a" stroke-width="0.8"/>
<ellipse cx="62.35" cy="436.85" rx="2.73" ry="2.42" fill="#fff" stroke="#2a2a2a" stroke-width="0.8"/>
<ellipse cx="69.66" cy="384.49" rx="2.73" ry="2.42" fill="#fff" stroke="#2a2a2a" stroke-width="0.8"/>
<ellipse cx="76.96" cy="372.97" rx="2.73" ry="2.42" fill="#fff" stroke="#2a2a2a" stroke-width="0.8"/>
<ellipse cx="84.26" cy="375.44" rx="2.73" ry="2.42" fill="#fff" stroke="#2a2a2a" stroke-width="0.8"/>
<ellipse cx="91.56" cy="372.42" rx="2.73" ry="2.42" fill="#fff" stroke="#2a2a2a" stroke-width="0.8"/>
<ellipse cx="98.86" cy="366.94" rx="2.73" ry="2.42" fill="#fff" stroke="#2a2a2a" stroke-width="0.8"/>
<ellipse cx="106.17" cy="354.33" rx="2.73" ry="2.42" fill="#fff" stroke="#2a2a2a" stroke-width="0.8"/>
<ellipse cx="113.47" cy="342.27" rx="2.73" ry="2.42" fill="#fff" stroke="#2a2a2a" stroke-width="0.8"/>
<ellipse cx="120.77" cy="328.56" rx="2.73" ry="2.42" fill="#fff" stroke="#2a2a2a" stroke-width="0.8"/>
<ellipse cx="128.07" cy="320.34" rx="2.73" ry="2.42" fill="#fff" stroke="#2a2a2a" stroke-width="0.8"/>
<ellipse cx="135.37" cy="313.76" rx="2.73" ry="2.42" fill="#fff" stroke="#2a2a2a" stroke-width="0.8"/>
<ellipse cx="142.68" cy="306.08" rx="2.73" ry="2.42" fill="#fff" stroke="#2a2a2a" stroke-width="0.8"/>
<ellipse cx="149.98" cy="303.34" rx="2.73" ry="2.42" fill="#fff" stroke="#2a2a2a" stroke-width="0.8"/>
<ellipse cx="157.28" cy="298.95" rx="2.73" ry="2.42" fill="#fff" stroke="#2a2a2a" stroke-width="0.8"/>
<ellipse cx="164.58" cy="294.02" rx="2.73" ry="2.42" fill="#fff" stroke="#2a2a2a" stroke-width="0.8"/>
<ellipse cx="171.88" cy="287.99" rx="2.73" ry="2.42" fill="#fff" stroke="#2a2a2a" stroke-width="0.8"/>
<ellipse cx="179.19" cy="284.42" rx="2.73" ry="2.42" fill="#fff" stroke="#2a2a2a" stroke-width="0.8"/>
<ellipse cx="186.49" cy="283.33" rx="2.73" ry="2.42" fill="#fff" stroke="#2a2a2a" stroke-width="0.8"/>
<ellipse cx="193.79" cy="283.60" rx="2.73" ry="2.42" fill="#fff" stroke="#2a2a2a" stroke-width="0.8"/>
<ellipse cx="201.09" cy="284.15" rx="2.73" ry="2.42" fill="#fff" stroke="#2a2a2a" stroke-width="0.8"/>
<ellipse cx="208.39" cy="287.71" rx="2.73" ry="2.42" fill="#fff" stroke="#2a2a2a" stroke-width="0.8"/>
<ellipse cx="215.70" cy="293.74" rx="2.73" ry="2.42" fill="#fff" stroke="#2a2a2a" stroke-width="0.8"/>
<ellipse cx="223.00" cy="297.03" rx="2.73" ry="2.42" fill="#fff" stroke="#2a2a2a" stroke-width="0.8"/>
<ellipse cx="230.30" cy="302.52" rx="2.73" ry="2.42" fill="#fff" stroke="#2a2a2a" stroke-width="0.8"/>
<ellipse cx="237.60" cy="311.29" rx="2.73" ry="2.42" fill="#fff" stroke="#2a2a2a" stroke-width="0.8"/>
<ellipse cx="244.90" cy="321.71" rx="2.73" ry="2.42" fill="#fff" stroke="#2a2a2a" stroke-width="0.8"/>
<ellipse cx="252.21" cy="330.20" rx="2.73" ry="2.42" fill="#fff" stroke="#2a2a2a" stroke-width="0.8"/>
<ellipse cx="259.51" cy="332.40" rx="2.73" ry="2.42" fill="#fff" stroke="#2a2a2a" stroke-width="0.8"/>
<ellipse cx="266.81" cy="336.51" rx="2.73" ry="2.42" fill="#fff" stroke="#2a2a2a" stroke-width="0.8"/>
<ellipse cx="274.11" cy="349.39" rx="2.73" ry="2.42" fill="#fff" stroke="#2a2a2a" stroke-width="0.8"/>
<ellipse cx="281.41" cy="377.08" rx="2.73" ry="2.42" fill="#fff" stroke="#2a2a2a" stroke-width="0.8"/>
<ellipse cx="288.72" cy="400.11" rx="2.73" ry="2.42" fill="#fff" stroke="#2a2a2a" stroke-width="0.8"/>
<ellipse cx="296.02" cy="419.30" rx="2.73" ry="2.42" fill="#fff" stroke="#2a2a2a" stroke-width="0.8"/>
<ellipse cx="303.32" cy="429.99" rx="2.73" ry="2.42" fill="#fff" stroke="#2a2a2a" stroke-width="0.8"/>
<ellipse cx="310.62" cy="435.20" rx="2.73" ry="2.42" fill="#fff" stroke="#2a2a2a" stroke-width="0.8"/>
<ellipse cx="317.92" cy="436.57" rx="2.73" ry="2.42" fill="#fff" stroke="#2a2a2a" stroke-width="0.8"/>
<ellipse cx="325.23" cy="437.94" rx="2.73" ry="2.42" fill="#fff" stroke="#2a2a2a" stroke-width="0.8"/>
<ellipse cx="332.53" cy="438.49" rx="2.73" ry="2.42" fill="#fff" stroke="#2a2a2a" stroke-width="0.8"/>
<ellipse cx="339.83" cy="439.31" rx="2.73" ry="2.42" fill="#fff" stroke="#2a2a2a" stroke-width="0.8"/>
<polygon points="47.75,437.25 48.67,439.46 51.27,439.57 49.23,441.05 49.92,443.33 47.75,442.03 45.58,443.33 46.27,441.05 44.23,439.57 46.83,439.46" fill="#fff" stroke="#222" stroke-width="0.75"/>
<polygon points="55.05,433.69 55.97,435.90 58.57,436.01 56.53,437.48 57.22,439.76 55.05,438.46 52.88,439.76 53.57,437.48 51.54,436.01 54.14,435.90" fill="#fff" stroke="#222" stroke-width="0.75"/>
<polygon points="62.35,397.23 63.27,399.44 65.87,399.55 63.84,401.02 64.53,403.30 62.35,402.00 60.18,403.30 60.87,401.02 58.84,399.55 61.44,399.44" fill="#fff" stroke="#222" stroke-width="0.75"/>
<polygon points="69.66,368.71 70.57,370.93 73.17,371.04 71.14,372.51 71.83,374.79 69.66,373.49 67.48,374.79 68.17,372.51 66.14,371.04 68.74,370.93" fill="#fff" stroke="#222" stroke-width="0.75"/>
<polygon points="76.96,359.12 77.87,361.33 80.47,361.44 78.44,362.92 79.13,365.20 76.96,363.90 74.79,365.20 75.48,362.92 73.44,361.44 76.04,361.33" fill="#fff" stroke="#222" stroke-width="0.75"/>
<polygon points="84.26,362.96 85.18,365.17 87.78,365.28 85.74,366.76 86.43,369.04 84.26,367.74 82.09,369.04 82.78,366.76 80.74,365.28 83.34,365.17" fill="#fff" stroke="#222" stroke-width="0.75"/>
<polygon points="91.56,364.05 92.48,366.27 95.08,366.38 93.04,367.85 93.73,370.13 91.56,368.83 89.39,370.13 90.08,367.85 88.05,366.38 90.65,366.27" fill="#fff" stroke="#222" stroke-width="0.75"/>
<polygon points="98.86,362.41 99.78,364.62 102.38,364.73 100.35,366.21 101.04,368.49 98.86,367.19 96.69,368.49 97.38,366.21 95.35,364.73 97.95,364.62" fill="#fff" stroke="#222" stroke-width="0.75"/>
<polygon points="106.17,355.28 107.08,357.49 109.68,357.60 107.65,359.08 108.34,361.36 106.17,360.06 103.99,361.36 104.68,359.08 102.65,357.60 105.25,357.49" fill="#fff" stroke="#222" stroke-width="0.75"/>
<polygon points="113.47,343.22 114.38,345.43 116.98,345.54 114.95,347.02 115.64,349.30 113.47,348.00 111.30,349.30 111.99,347.02 109.95,345.54 112.55,345.43" fill="#fff" stroke="#222" stroke-width="0.75"/>
<polygon points="120.77,329.51 121.69,331.73 124.29,331.83 122.25,333.31 122.94,335.59 120.77,334.29 118.60,335.59 119.29,333.31 117.25,331.83 119.85,331.73" fill="#fff" stroke="#222" stroke-width="0.75"/>
<polygon points="128.07,315.81 128.99,318.02 131.59,318.13 129.55,319.60 130.24,321.88 128.07,320.58 125.90,321.88 126.59,319.60 124.56,318.13 127.16,318.02" fill="#fff" stroke="#222" stroke-width="0.75"/>
<polygon points="135.37,305.39 136.29,307.60 138.89,307.71 136.86,309.19 137.55,311.47 135.37,310.17 133.20,311.47 133.89,309.19 131.86,307.71 134.46,307.60" fill="#fff" stroke="#222" stroke-width="0.75"/>
<polygon points="142.68,296.61 143.59,298.83 146.19,298.94 144.16,300.41 144.85,302.69 142.68,301.39 140.50,302.69 141.19,300.41 139.16,298.94 141.76,298.83" fill="#fff" stroke="#222" stroke-width="0.75"/>
<polygon points="149.98,291.68 150.89,293.89 153.49,294.00 151.46,295.48 152.15,297.76 149.98,296.46 147.81,297.76 148.50,295.48 146.46,294.00 149.06,293.89" fill="#fff" stroke="#222" stroke-width="0.75"/>
<polygon points="157.28,285.65 158.20,287.86 160.80,287.97 158.76,289.45 159.45,291.73 157.28,290.43 155.11,291.73 155.80,289.45 153.76,287.97 156.36,287.86" fill="#fff" stroke="#222" stroke-width="0.75"/>
<polygon points="164.58,280.44 165.50,282.65 168.10,282.76 166.06,284.24 166.75,286.52 164.58,285.22 162.41,286.52 163.10,284.24 161.07,282.76 163.67,282.65" fill="#fff" stroke="#222" stroke-width="0.75"/>
<polygon points="171.88,275.23 172.80,277.45 175.40,277.55 173.37,279.03 174.06,281.31 171.88,280.01 169.71,281.31 170.40,279.03 168.37,277.55 170.97,277.45" fill="#fff" stroke="#222" stroke-width="0.75"/>
<polygon points="179.19,274.41 180.10,276.62 182.70,276.73 180.67,278.21 181.36,280.49 179.19,279.19 177.01,280.49 177.70,278.21 175.67,276.73 178.27,276.62" fill="#fff" stroke="#222" stroke-width="0.75"/>
<polygon points="186.49,273.31 187.40,275.53 190.00,275.63 187.97,277.11 188.66,279.39 186.49,278.09 184.32,279.39 185.01,277.11 182.97,275.63 185.57,275.53" fill="#fff" stroke="#222" stroke-width="0.75"/>
<polygon points="193.79,273.31 194.71,275.53 197.31,275.63 195.27,277.11 195.96,279.39 193.79,278.09 191.62,279.39 192.31,277.11 190.27,275.63 192.87,275.53" fill="#fff" stroke="#222" stroke-width="0.75"/>
<polygon points="201.09,274.41 202.01,276.62 204.61,276.73 202.57,278.21 203.26,280.49 201.09,279.19 198.92,280.49 199.61,278.21 197.58,276.73 200.18,276.62" fill="#fff" stroke="#222" stroke-width="0.75"/>
<polygon points="208.39,279.34 209.31,281.56 211.91,281.67 209.88,283.14 210.57,285.42 208.39,284.12 206.22,285.42 206.91,283.14 204.88,281.67 207.48,281.56" fill="#fff" stroke="#222" stroke-width="0.75"/>
<polygon points="215.70,286.20 216.61,288.41 219.21,288.52 217.18,290.00 217.87,292.28 215.70,290.98 213.52,292.28 214.21,290.00 212.18,288.52 214.78,288.41" fill="#fff" stroke="#222" stroke-width="0.75"/>
<polygon points="223.00,292.50 223.91,294.72 226.51,294.82 224.48,296.30 225.17,298.58 223.00,297.28 220.83,298.58 221.52,296.30 219.48,294.82 222.08,294.72" fill="#fff" stroke="#222" stroke-width="0.75"/>
<polygon points="230.30,297.44 231.22,299.65 233.82,299.76 231.78,301.24 232.47,303.52 230.30,302.21 228.13,303.52 228.82,301.24 226.78,299.76 229.38,299.65" fill="#fff" stroke="#222" stroke-width="0.75"/>
<polygon points="237.60,308.13 238.52,310.34 241.12,310.45 239.08,311.93 239.77,314.21 237.60,312.91 235.43,314.21 236.12,311.93 234.09,310.45 236.69,310.34" fill="#fff" stroke="#222" stroke-width="0.75"/>
<polygon points="244.90,318.55 245.82,320.76 248.42,320.87 246.39,322.34 247.08,324.62 244.90,323.32 242.73,324.62 243.42,322.34 241.39,320.87 243.99,320.76" fill="#fff" stroke="#222" stroke-width="0.75"/>
<polygon points="252.21,327.04 253.12,329.26 255.72,329.37 253.69,330.84 254.38,333.12 252.21,331.82 250.03,333.12 250.72,330.84 248.69,329.37 251.29,329.26" fill="#fff" stroke="#222" stroke-width="0.75"/>
<polygon points="259.51,329.51 260.42,331.73 263.02,331.83 260.99,333.31 261.68,335.59 259.51,334.29 257.34,335.59 258.03,333.31 255.99,331.83 258.59,331.73" fill="#fff" stroke="#222" stroke-width="0.75"/>
<polygon points="266.81,333.35 267.73,335.56 270.33,335.67 268.29,337.15 268.98,339.43 266.81,338.13 264.64,339.43 265.33,337.15 263.29,335.67 265.89,335.56" fill="#fff" stroke="#222" stroke-width="0.75"/>
<polygon points="274.11,346.23 275.03,348.45 277.63,348.56 275.59,350.03 276.28,352.31 274.11,351.01 271.94,352.31 272.63,350.03 270.60,348.56 273.20,348.45" fill="#fff" stroke="#222" stroke-width="0.75"/>
<polygon points="281.41,372.00 282.33,374.22 284.93,374.33 282.90,375.80 283.59,378.08 281.41,376.78 279.24,378.08 279.93,375.80 277.90,374.33 280.50,374.22" fill="#fff" stroke="#222" stroke-width="0.75"/>
<polygon points="288.72,396.95 289.63,399.16 292.23,399.27 290.20,400.75 290.89,403.03 288.72,401.73 286.54,403.03 287.23,400.75 285.20,399.27 287.80,399.16" fill="#fff" stroke="#222" stroke-width="0.75"/>
<polygon points="296.02,413.40 296.93,415.61 299.53,415.72 297.50,417.20 298.19,419.48 296.02,418.18 293.85,419.48 294.54,417.20 292.50,415.72 295.10,415.61" fill="#fff" stroke="#222" stroke-width="0.75"/>
<polygon points="303.32,426.83 304.24,429.05 306.84,429.15 304.80,430.63 305.49,432.91 303.32,431.61 301.15,432.91 301.84,430.63 299.80,429.15 302.40,429.05" fill="#fff" stroke="#222" stroke-width="0.75"/>
<polygon points="310.62,432.04 311.54,434.25 314.14,434.36 312.10,435.84 312.79,438.12 310.62,436.82 308.45,438.12 309.14,435.84 307.11,434.36 309.71,434.25" fill="#fff" stroke="#222" stroke-width="0.75"/>
<polygon points="317.92,433.41 318.84,435.63 321.44,435.73 319.41,437.21 320.10,439.49 317.92,438.19 315.75,439.49 316.44,437.21 314.41,435.73 317.01,435.63" fill="#fff" stroke="#222" stroke-width="0.75"/>
<polygon points="325.23,434.78 326.14,437.00 328.74,437.10 326.71,438.58 327.40,440.86 325.23,439.56 323.05,440.86 323.74,438.58 321.71,437.10 324.31,437.00" fill="#fff" stroke="#222" stroke-width="0.75"/>
<polygon points="332.53,435.33 333.44,437.54 336.04,437.65 334.01,439.13 334.70,441.41 332.53,440.11 330.36,441.41 331.05,439.13 329.01,437.65 331.61,437.54" fill="#fff" stroke="#222" stroke-width="0.75"/>
<polygon points="339.83,436.15 340.75,438.37 343.35,438.48 341.31,439.95 342.00,442.23 339.83,440.93 337.66,442.23 338.35,439.95 336.31,438.48 338.91,438.37" fill="#fff" stroke="#222" stroke-width="0.75"/>
<path d="M47.75 437.12L51.22 443.10L44.28 443.10Z" fill="#111"/>
<path d="M55.05 436.02L58.52 442.01L51.59 442.01Z" fill="#111"/>
<path d="M62.35 430.26L65.82 436.25L58.89 436.25Z" fill="#111"/>
<path d="M69.66 378.45L73.12 384.44L66.19 384.44Z" fill="#111"/>
<path d="M76.96 366.39L80.42 372.37L73.49 372.37Z" fill="#111"/>
<path d="M84.26 366.39L87.72 372.37L80.79 372.37Z" fill="#111"/>
<path d="M91.56 361.18L95.03 367.17L88.10 367.17Z" fill="#111"/>
<path d="M98.86 352.68L102.33 358.67L95.40 358.67Z" fill="#111"/>
<path d="M106.17 341.17L109.63 347.15L102.70 347.15Z" fill="#111"/>
<path d="M113.47 329.38L116.93 335.36L110.00 335.36Z" fill="#111"/>
<path d="M120.77 318.41L124.23 324.40L117.30 324.40Z" fill="#111"/>
<path d="M128.07 310.19L131.54 316.17L124.61 316.17Z" fill="#111"/>
<path d="M135.37 303.88L138.84 309.87L131.91 309.87Z" fill="#111"/>
<path d="M142.68 300.87L146.14 306.85L139.21 306.85Z" fill="#111"/>
<path d="M149.98 297.58L153.44 303.56L146.51 303.56Z" fill="#111"/>
<path d="M157.28 292.37L160.75 298.36L153.81 298.36Z" fill="#111"/>
<path d="M164.58 286.34L168.05 292.32L161.12 292.32Z" fill="#111"/>
<path d="M171.88 278.66L175.35 284.65L168.42 284.65Z" fill="#111"/>
<path d="M179.19 274.28L182.65 280.26L175.72 280.26Z" fill="#111"/>
<path d="M186.49 271.54L189.95 277.52L183.02 277.52Z" fill="#111"/>
<path d="M193.79 272.08L197.25 278.07L190.32 278.07Z" fill="#111"/>
<path d="M201.09 272.36L204.56 278.34L197.63 278.34Z" fill="#111"/>
<path d="M208.39 275.92L211.86 281.91L204.93 281.91Z" fill="#111"/>
<path d="M215.70 281.95L219.16 287.94L212.23 287.94Z" fill="#111"/>
<path d="M223.00 284.42L226.46 290.41L219.53 290.41Z" fill="#111"/>
<path d="M230.30 289.63L233.76 295.61L226.83 295.61Z" fill="#111"/>
<path d="M237.60 298.40L241.07 304.39L234.14 304.39Z" fill="#111"/>
<path d="M244.90 308.82L248.37 314.80L241.44 314.80Z" fill="#111"/>
<path d="M252.21 318.41L255.67 324.40L248.74 324.40Z" fill="#111"/>
<path d="M259.51 321.70L262.97 327.69L256.04 327.69Z" fill="#111"/>
<path d="M266.81 325.27L270.27 331.25L263.35 331.25Z" fill="#111"/>
<path d="M274.11 340.07L277.58 346.06L270.65 346.06Z" fill="#111"/>
<path d="M281.41 367.49L284.88 373.47L277.95 373.47Z" fill="#111"/>
<path d="M288.72 393.80L292.18 399.79L285.25 399.79Z" fill="#111"/>
<path d="M296.02 413.27L299.48 419.25L292.55 419.25Z" fill="#111"/>
<path d="M303.32 425.33L306.78 431.31L299.86 431.31Z" fill="#111"/>
<path d="M310.62 431.63L314.09 437.62L307.16 437.62Z" fill="#111"/>
<path d="M317.92 433.28L321.39 439.26L314.46 439.26Z" fill="#111"/>
<path d="M325.23 434.38L328.69 440.36L321.76 440.36Z" fill="#111"/>
<path d="M332.53 434.92L335.99 440.91L329.06 440.91Z" fill="#111"/>
<path d="M339.83 435.75L343.29 441.73L336.37 441.73Z" fill="#111"/>
</g>
<rect x="47.5" y="251.8" width="291.9" height="191.89999999999998" fill="none" stroke="#8a8a8a" stroke-width="1.5"/>
<path d="M47.75 443.7v-4M47.75 251.8v4M84.26 443.7v-2.2M84.26 251.8v2.2M120.77 443.7v-4M120.77 251.8v4M157.28 443.7v-2.2M157.28 251.8v2.2M193.79 443.7v-4M193.79 251.8v4M230.30 443.7v-2.2M230.30 251.8v2.2M266.81 443.7v-4M266.81 251.8v4M303.32 443.7v-2.2M303.32 251.8v2.2M339.83 443.7v-4M339.83 251.8v4M47.5 443.70h4M339.4 443.70h-4M47.5 429.99h2.2M339.4 429.99h-2.2M47.5 416.29h4M339.4 416.29h-4M47.5 402.58h2.2M339.4 402.58h-2.2M47.5 388.87h4M339.4 388.87h-4M47.5 375.16h2.2M339.4 375.16h-2.2M47.5 361.46h4M339.4 361.46h-4M47.5 347.75h2.2M339.4 347.75h-2.2M47.5 334.04h4M339.4 334.04h-4M47.5 320.34h2.2M339.4 320.34h-2.2M47.5 306.63h4M339.4 306.63h-4M47.5 292.92h2.2M339.4 292.92h-2.2M47.5 279.21h4M339.4 279.21h-4M47.5 265.51h2.2M339.4 265.51h-2.2M47.5 251.80h4M339.4 251.80h-4" stroke="#8a8a8a" stroke-width="1.1" fill="none"/>
<text x="42.3" y="449.3" font-size="8.8" text-anchor="end" stroke="#2a2a2a" stroke-width="0.15" >0</text>
<text x="42.3" y="420.5" font-size="8.8" text-anchor="end" stroke="#2a2a2a" stroke-width="0.15" >10</text>
<text x="42.3" y="393.1" font-size="8.8" text-anchor="end" stroke="#2a2a2a" stroke-width="0.15" >20</text>
<text x="42.3" y="365.7" font-size="8.8" text-anchor="end" stroke="#2a2a2a" stroke-width="0.15" >30</text>
<text x="42.3" y="338.2" font-size="8.8" text-anchor="end" stroke="#2a2a2a" stroke-width="0.15" >40</text>
<text x="42.3" y="310.8" font-size="8.8" text-anchor="end" stroke="#2a2a2a" stroke-width="0.15" >50</text>
<text x="42.3" y="283.4" font-size="8.8" text-anchor="end" stroke="#2a2a2a" stroke-width="0.15" >60</text>
<text x="42.3" y="256.0" font-size="8.8" text-anchor="end" stroke="#2a2a2a" stroke-width="0.15" >70</text>
<text x="47.4" y="455.7" font-size="8.6" text-anchor="middle" stroke="#2a2a2a" stroke-width="0.15" >300</text>
<text x="120.4" y="455.7" font-size="8.6" text-anchor="middle" stroke="#2a2a2a" stroke-width="0.15" >400</text>
<text x="193.4" y="455.7" font-size="8.6" text-anchor="middle" stroke="#2a2a2a" stroke-width="0.15" >500</text>
<text x="266.4" y="455.7" font-size="8.6" text-anchor="middle" stroke="#2a2a2a" stroke-width="0.15" >600</text>
<text x="339.4" y="455.7" font-size="8.6" text-anchor="middle" stroke="#2a2a2a" stroke-width="0.15" >700</text>
<text x="199.7" y="472.7" font-size="11.6" text-anchor="middle" stroke="#2a2a2a" stroke-width="0.15" >Wavelength(nm)</text>
<text transform="translate(14.2,343.2) rotate(-90)" font-size="11.7" text-anchor="middle">EQE(%)</text>
<text x="81.5" y="287.1" font-size="14.5" text-anchor="middle" stroke="#2a2a2a" stroke-width="0.05" >(b)</text>
<rect x="261.4" y="257.3" width="71.3" height="37.4" fill="#fff" stroke="#6e6e6e" stroke-width="0.9"/>
<line x1="263.6" y1="262.30" x2="282.2" y2="262.30" stroke="#555" stroke-width="0.8"/>
<rect x="270.60" y="260.30" width="4.60" height="4.00" fill="#111"/>
<text x="329.0" y="266.10" font-size="8.7" text-anchor="end" stroke="#2a2a2a" stroke-width="0.15" >0 wt%<tspan dx="1.5">EG</tspan></text>
<line x1="263.6" y1="271.75" x2="282.2" y2="271.75" stroke="#555" stroke-width="0.8"/>
<ellipse cx="272.90" cy="271.75" rx="2.60" ry="2.30" fill="#fff" stroke="#2a2a2a" stroke-width="0.8"/>
<text x="329.0" y="274.70" font-size="8.7" text-anchor="end" stroke="#2a2a2a" stroke-width="0.15" >0.5 wt%<tspan dx="1.5">EG</tspan></text>
<line x1="263.6" y1="281.20" x2="282.2" y2="281.20" stroke="#555" stroke-width="0.8"/>
<path d="M272.90 278.05L276.20 283.75L269.60 283.75Z" fill="#111"/>
<text x="329.0" y="283.40" font-size="8.7" text-anchor="end" stroke="#2a2a2a" stroke-width="0.15" >1.0 wt%<tspan dx="1.5">EG</tspan></text>
<line x1="263.6" y1="290.65" x2="282.2" y2="290.65" stroke="#555" stroke-width="0.8"/>
<polygon points="272.90,288.45 273.55,290.03 275.41,290.11 273.96,291.16 274.45,292.79 272.90,291.86 271.35,292.79 271.84,291.16 270.39,290.11 272.25,290.03" fill="#fff" stroke="#222" stroke-width="0.75"/>
<text x="329.0" y="292.70" font-size="8.7" text-anchor="end" stroke="#2a2a2a" stroke-width="0.15" >2.0 wt%<tspan dx="1.5">EG</tspan></text>
<defs><clipPath id="cc"><rect x="49.2" y="495.5" width="288.9" height="212.2"/></clipPath></defs>
<g clip-path="url(#cc)">
<path d="M52.16 705.51L55.15 705.01M60.89 703.39L64.25 702.04M67.66 697.98L75.30 662.89M77.89 657.68L82.90 651.83M87.77 648.86L90.85 648.13M96.26 645.77L100.18 643.16M104.61 639.20L109.66 633.18M113.35 628.45L118.74 621.01M122.28 616.16L127.64 608.90M131.35 604.18L136.40 598.17M141.01 594.53L144.56 592.76M150.22 591.06L153.18 590.71M159.13 590.00L162.09 589.65M168.04 589.72L171.01 590.14M176.98 590.42L179.90 590.28M185.84 589.58L188.86 589.00M194.63 587.43L197.90 586.27M203.62 584.50L206.73 583.69M212.55 582.23L215.63 581.50M221.48 580.18L224.53 579.52M230.41 578.33L233.43 577.76M239.37 577.13L242.29 577.06M248.28 577.13L251.20 577.27M257.17 577.83L260.14 578.26M266.11 578.68L269.02 578.68M274.97 579.24L277.99 579.82M283.91 580.80L286.88 581.23M292.82 582.08L295.79 582.50M301.73 582.50L304.71 582.08M310.66 581.37L313.60 581.09M319.59 580.95L322.51 581.09M328.50 581.44L331.42 581.65M337.41 581.72L340.33 581.58" stroke="#555" stroke-width="0.75" fill="none"/>
<path d="M52.12 705.31L55.19 704.58M61.06 703.32L64.08 702.74M67.59 699.24L75.37 658.87M77.91 653.67L82.88 648.00M87.80 645.18L90.82 644.60M96.18 642.26L100.26 639.24M104.52 635.09L109.75 628.37M113.15 623.44L118.94 613.92M121.81 608.66L128.11 595.60M130.76 590.22L136.99 577.76M140.26 572.78L145.31 566.76M149.87 563.02L153.52 561.03M159.09 558.96L162.14 558.30M167.97 558.43L171.08 559.25M176.97 559.80L179.90 559.59M185.89 559.37L188.81 559.37M194.76 558.81L197.77 558.24M203.72 557.82L206.64 557.96M212.63 558.10L215.55 558.10M221.54 558.24L224.46 558.38M230.46 558.59L233.37 558.66M239.36 559.02L242.30 559.30M248.19 560.34L251.30 561.16M257.20 562.06L260.12 562.20M266.07 562.84L269.07 563.34M274.94 564.52L278.02 565.26M283.93 566.09L286.85 566.23M292.85 566.23L295.77 566.09M301.70 565.32L304.74 564.67M310.68 564.04L313.59 564.04M319.54 564.60L322.56 565.18M328.37 564.85L331.55 563.87M337.17 561.80L340.57 560.34" stroke="#555" stroke-width="0.75" fill="none"/>
<path d="M52.16 705.51L55.15 705.01M60.72 703.03L64.42 700.91M67.60 696.48L75.37 656.32M77.74 650.98L83.05 643.89M87.54 640.15L91.08 638.38M95.84 634.87L100.61 629.87M104.29 625.17L109.98 616.23M112.95 611.02L119.15 598.76M121.85 593.40L128.08 580.94M130.91 575.66L136.83 565.37M140.63 560.85L144.94 557.26M150.13 554.52L153.27 553.62M159.07 552.10L162.15 551.37M168.07 550.74L170.98 550.81M176.92 550.26L179.96 549.60M185.78 548.15L188.92 547.25M194.52 545.14L198.01 543.47M203.71 541.90L206.65 541.62M212.62 541.62L215.56 541.90M221.54 542.33L224.46 542.47M230.44 542.96L233.39 543.31M239.33 544.16L242.33 544.66M248.22 545.78L251.27 546.44M257.06 547.95L260.25 548.94M266.05 550.45L269.09 551.10M274.89 552.62L278.07 553.60M283.94 554.49L286.85 554.49M292.84 554.21L295.78 553.93M301.75 553.36L304.69 553.08M310.17 554.46L314.09 557.07M318.95 560.59L323.14 563.88M328.39 566.56L331.53 567.46M337.05 566.84L340.70 564.84" stroke="#555" stroke-width="0.75" fill="none"/>
<path d="M52.12 705.31L55.19 704.58M58.91 700.99L66.23 674.52M67.97 668.78L74.99 647.73M77.85 642.57L82.94 636.38M87.85 634.07L90.77 634.07M96.63 633.18L99.81 632.19M105.04 629.45L109.23 626.16M113.27 621.82L118.82 613.63M121.82 608.45L128.10 595.60M130.76 590.22L136.99 577.76M139.75 572.43L145.82 561.16M149.34 556.38L154.06 551.54M158.68 547.78L162.55 545.29M168.03 543.18L171.02 542.68M176.79 541.12L180.09 539.86M185.81 538.09L188.89 537.36M194.67 535.78L197.86 534.80M203.68 534.40L206.67 534.90M212.60 535.82L215.58 536.24M221.53 537.02L224.48 537.37M230.26 538.80L233.57 540.06M239.26 541.95L242.40 542.85M248.11 544.68L251.37 545.84M257.10 547.61L260.21 548.43M265.87 550.37L269.27 551.82M274.66 554.45L278.31 556.45M283.78 558.84L287.00 559.91M292.84 560.57L295.78 560.29M301.72 559.52L304.72 559.02M310.54 559.41L313.72 560.40M319.09 562.95L323.01 565.56M328.31 568.29L331.61 569.55M336.75 568.73L341.00 565.29" stroke="#555" stroke-width="0.75" fill="none"/>
<rect x="46.72" y="703.52" width="4.97" height="4.97" fill="#111"/>
<rect x="55.63" y="702.03" width="4.97" height="4.97" fill="#111"/>
<rect x="64.54" y="698.43" width="4.97" height="4.97" fill="#111"/>
<rect x="73.46" y="657.47" width="4.97" height="4.97" fill="#111"/>
<rect x="82.37" y="647.07" width="4.97" height="4.97" fill="#111"/>
<rect x="91.28" y="644.95" width="4.97" height="4.97" fill="#111"/>
<rect x="100.19" y="639.01" width="4.97" height="4.97" fill="#111"/>
<rect x="109.11" y="628.40" width="4.97" height="4.97" fill="#111"/>
<rect x="118.02" y="616.09" width="4.97" height="4.97" fill="#111"/>
<rect x="126.93" y="604.00" width="4.97" height="4.97" fill="#111"/>
<rect x="135.85" y="593.39" width="4.97" height="4.97" fill="#111"/>
<rect x="144.76" y="588.93" width="4.97" height="4.97" fill="#111"/>
<rect x="153.67" y="587.87" width="4.97" height="4.97" fill="#111"/>
<rect x="162.59" y="586.81" width="4.97" height="4.97" fill="#111"/>
<rect x="171.50" y="588.08" width="4.97" height="4.97" fill="#111"/>
<rect x="180.41" y="587.66" width="4.97" height="4.97" fill="#111"/>
<rect x="189.32" y="585.96" width="4.97" height="4.97" fill="#111"/>
<rect x="198.24" y="582.78" width="4.97" height="4.97" fill="#111"/>
<rect x="207.15" y="580.44" width="4.97" height="4.97" fill="#111"/>
<rect x="216.06" y="578.32" width="4.97" height="4.97" fill="#111"/>
<rect x="224.98" y="576.41" width="4.97" height="4.97" fill="#111"/>
<rect x="233.89" y="574.71" width="4.97" height="4.97" fill="#111"/>
<rect x="242.80" y="574.50" width="4.97" height="4.97" fill="#111"/>
<rect x="251.72" y="574.93" width="4.97" height="4.97" fill="#111"/>
<rect x="260.63" y="576.20" width="4.97" height="4.97" fill="#111"/>
<rect x="269.54" y="576.20" width="4.97" height="4.97" fill="#111"/>
<rect x="278.45" y="577.90" width="4.97" height="4.97" fill="#111"/>
<rect x="287.37" y="579.17" width="4.97" height="4.97" fill="#111"/>
<rect x="296.28" y="580.44" width="4.97" height="4.97" fill="#111"/>
<rect x="305.19" y="579.17" width="4.97" height="4.97" fill="#111"/>
<rect x="314.11" y="578.32" width="4.97" height="4.97" fill="#111"/>
<rect x="323.02" y="578.74" width="4.97" height="4.97" fill="#111"/>
<rect x="331.93" y="579.38" width="4.97" height="4.97" fill="#111"/>
<rect x="340.85" y="578.96" width="4.97" height="4.97" fill="#111"/>
<ellipse cx="49.20" cy="706.00" rx="2.81" ry="2.48" fill="#fff" stroke="#2a2a2a" stroke-width="0.8"/>
<ellipse cx="58.11" cy="703.88" rx="2.81" ry="2.48" fill="#fff" stroke="#2a2a2a" stroke-width="0.8"/>
<ellipse cx="67.03" cy="702.18" rx="2.81" ry="2.48" fill="#fff" stroke="#2a2a2a" stroke-width="0.8"/>
<ellipse cx="75.94" cy="655.92" rx="2.81" ry="2.48" fill="#fff" stroke="#2a2a2a" stroke-width="0.8"/>
<ellipse cx="84.85" cy="645.74" rx="2.81" ry="2.48" fill="#fff" stroke="#2a2a2a" stroke-width="0.8"/>
<ellipse cx="93.77" cy="644.04" rx="2.81" ry="2.48" fill="#fff" stroke="#2a2a2a" stroke-width="0.8"/>
<ellipse cx="102.68" cy="637.46" rx="2.81" ry="2.48" fill="#fff" stroke="#2a2a2a" stroke-width="0.8"/>
<ellipse cx="111.59" cy="626.00" rx="2.81" ry="2.48" fill="#fff" stroke="#2a2a2a" stroke-width="0.8"/>
<ellipse cx="120.50" cy="611.36" rx="2.81" ry="2.48" fill="#fff" stroke="#2a2a2a" stroke-width="0.8"/>
<ellipse cx="129.42" cy="592.90" rx="2.81" ry="2.48" fill="#fff" stroke="#2a2a2a" stroke-width="0.8"/>
<ellipse cx="138.33" cy="575.08" rx="2.81" ry="2.48" fill="#fff" stroke="#2a2a2a" stroke-width="0.8"/>
<ellipse cx="147.24" cy="564.47" rx="2.81" ry="2.48" fill="#fff" stroke="#2a2a2a" stroke-width="0.8"/>
<ellipse cx="156.16" cy="559.58" rx="2.81" ry="2.48" fill="#fff" stroke="#2a2a2a" stroke-width="0.8"/>
<ellipse cx="165.07" cy="557.67" rx="2.81" ry="2.48" fill="#fff" stroke="#2a2a2a" stroke-width="0.8"/>
<ellipse cx="173.98" cy="560.01" rx="2.81" ry="2.48" fill="#fff" stroke="#2a2a2a" stroke-width="0.8"/>
<ellipse cx="182.89" cy="559.37" rx="2.81" ry="2.48" fill="#fff" stroke="#2a2a2a" stroke-width="0.8"/>
<ellipse cx="191.81" cy="559.37" rx="2.81" ry="2.48" fill="#fff" stroke="#2a2a2a" stroke-width="0.8"/>
<ellipse cx="200.72" cy="557.67" rx="2.81" ry="2.48" fill="#fff" stroke="#2a2a2a" stroke-width="0.8"/>
<ellipse cx="209.63" cy="558.10" rx="2.81" ry="2.48" fill="#fff" stroke="#2a2a2a" stroke-width="0.8"/>
<ellipse cx="218.55" cy="558.10" rx="2.81" ry="2.48" fill="#fff" stroke="#2a2a2a" stroke-width="0.8"/>
<ellipse cx="227.46" cy="558.52" rx="2.81" ry="2.48" fill="#fff" stroke="#2a2a2a" stroke-width="0.8"/>
<ellipse cx="236.37" cy="558.74" rx="2.81" ry="2.48" fill="#fff" stroke="#2a2a2a" stroke-width="0.8"/>
<ellipse cx="245.29" cy="559.58" rx="2.81" ry="2.48" fill="#fff" stroke="#2a2a2a" stroke-width="0.8"/>
<ellipse cx="254.20" cy="561.92" rx="2.81" ry="2.48" fill="#fff" stroke="#2a2a2a" stroke-width="0.8"/>
<ellipse cx="263.11" cy="562.34" rx="2.81" ry="2.48" fill="#fff" stroke="#2a2a2a" stroke-width="0.8"/>
<ellipse cx="272.02" cy="563.83" rx="2.81" ry="2.48" fill="#fff" stroke="#2a2a2a" stroke-width="0.8"/>
<ellipse cx="280.94" cy="565.95" rx="2.81" ry="2.48" fill="#fff" stroke="#2a2a2a" stroke-width="0.8"/>
<ellipse cx="289.85" cy="566.37" rx="2.81" ry="2.48" fill="#fff" stroke="#2a2a2a" stroke-width="0.8"/>
<ellipse cx="298.76" cy="565.95" rx="2.81" ry="2.48" fill="#fff" stroke="#2a2a2a" stroke-width="0.8"/>
<ellipse cx="307.68" cy="564.04" rx="2.81" ry="2.48" fill="#fff" stroke="#2a2a2a" stroke-width="0.8"/>
<ellipse cx="316.59" cy="564.04" rx="2.81" ry="2.48" fill="#fff" stroke="#2a2a2a" stroke-width="0.8"/>
<ellipse cx="325.50" cy="565.74" rx="2.81" ry="2.48" fill="#fff" stroke="#2a2a2a" stroke-width="0.8"/>
<ellipse cx="334.42" cy="562.98" rx="2.81" ry="2.48" fill="#fff" stroke="#2a2a2a" stroke-width="0.8"/>
<ellipse cx="343.33" cy="559.16" rx="2.81" ry="2.48" fill="#fff" stroke="#2a2a2a" stroke-width="0.8"/>
<polygon points="49.20,702.75 50.14,705.02 52.82,705.13 50.73,706.65 51.43,709.00 49.20,707.66 46.97,709.00 47.67,706.65 45.58,705.13 48.26,705.02" fill="#fff" stroke="#222" stroke-width="0.75"/>
<polygon points="58.11,700.62 59.06,702.90 61.73,703.01 59.64,704.53 60.35,706.88 58.11,705.54 55.88,706.88 56.59,704.53 54.50,703.01 57.17,702.90" fill="#fff" stroke="#222" stroke-width="0.75"/>
<polygon points="67.03,668.37 67.97,670.65 70.64,670.76 68.55,672.28 69.26,674.62 67.03,673.28 64.79,674.62 65.50,672.28 63.41,670.76 66.08,670.65" fill="#fff" stroke="#222" stroke-width="0.75"/>
<polygon points="75.94,641.63 76.88,643.91 79.55,644.02 77.46,645.54 78.17,647.88 75.94,646.55 73.70,647.88 74.41,645.54 72.32,644.02 75.00,643.91" fill="#fff" stroke="#222" stroke-width="0.75"/>
<polygon points="84.85,630.81 85.79,633.09 88.47,633.20 86.38,634.72 87.09,637.06 84.85,635.72 82.62,637.06 83.33,634.72 81.24,633.20 83.91,633.09" fill="#fff" stroke="#222" stroke-width="0.75"/>
<polygon points="93.77,630.81 94.71,633.09 97.38,633.20 95.29,634.72 96.00,637.06 93.77,635.72 91.53,637.06 92.24,634.72 90.15,633.20 92.82,633.09" fill="#fff" stroke="#222" stroke-width="0.75"/>
<polygon points="102.68,628.05 103.62,630.33 106.29,630.44 104.20,631.96 104.91,634.30 102.68,632.97 100.44,634.30 101.15,631.96 99.06,630.44 101.74,630.33" fill="#fff" stroke="#222" stroke-width="0.75"/>
<polygon points="111.59,621.05 112.53,623.33 115.21,623.44 113.12,624.96 113.83,627.30 111.59,625.96 109.36,627.30 110.07,624.96 107.98,623.44 110.65,623.33" fill="#fff" stroke="#222" stroke-width="0.75"/>
<polygon points="120.50,607.89 121.45,610.17 124.12,610.28 122.03,611.80 122.74,614.14 120.50,612.81 118.27,614.14 118.98,611.80 116.89,610.28 119.56,610.17" fill="#fff" stroke="#222" stroke-width="0.75"/>
<polygon points="129.42,589.64 130.36,591.92 133.03,592.03 130.94,593.55 131.65,595.90 129.42,594.56 127.18,595.90 127.89,593.55 125.80,592.03 128.47,591.92" fill="#fff" stroke="#222" stroke-width="0.75"/>
<polygon points="138.33,571.82 139.27,574.10 141.95,574.21 139.86,575.73 140.56,578.07 138.33,576.73 136.10,578.07 136.80,575.73 134.71,574.21 137.39,574.10" fill="#fff" stroke="#222" stroke-width="0.75"/>
<polygon points="147.24,555.27 148.19,557.54 150.86,557.66 148.77,559.17 149.48,561.52 147.24,560.18 145.01,561.52 145.72,559.17 143.63,557.66 146.30,557.54" fill="#fff" stroke="#222" stroke-width="0.75"/>
<polygon points="156.16,546.14 157.10,548.42 159.77,548.53 157.68,550.05 158.39,552.39 156.16,551.06 153.92,552.39 154.63,550.05 152.54,548.53 155.21,548.42" fill="#fff" stroke="#222" stroke-width="0.75"/>
<polygon points="165.07,540.41 166.01,542.69 168.68,542.80 166.59,544.32 167.30,546.67 165.07,545.33 162.83,546.67 163.54,544.32 161.45,542.80 164.13,542.69" fill="#fff" stroke="#222" stroke-width="0.75"/>
<polygon points="173.98,538.93 174.92,541.20 177.60,541.32 175.51,542.83 176.22,545.18 173.98,543.84 171.75,545.18 172.46,542.83 170.37,541.32 173.04,541.20" fill="#fff" stroke="#222" stroke-width="0.75"/>
<polygon points="182.89,535.53 183.84,537.81 186.51,537.92 184.42,539.44 185.13,541.78 182.89,540.45 180.66,541.78 181.37,539.44 179.28,537.92 181.95,537.81" fill="#fff" stroke="#222" stroke-width="0.75"/>
<polygon points="191.81,533.41 192.75,535.69 195.42,535.80 193.33,537.32 194.04,539.66 191.81,538.32 189.57,539.66 190.28,537.32 188.19,535.80 190.87,535.69" fill="#fff" stroke="#222" stroke-width="0.75"/>
<polygon points="200.72,530.65 201.66,532.93 204.34,533.04 202.25,534.56 202.96,536.90 200.72,535.57 198.49,536.90 199.20,534.56 197.11,533.04 199.78,532.93" fill="#fff" stroke="#222" stroke-width="0.75"/>
<polygon points="209.63,532.14 210.58,534.41 213.25,534.53 211.16,536.04 211.87,538.39 209.63,537.05 207.40,538.39 208.11,536.04 206.02,534.53 208.69,534.41" fill="#fff" stroke="#222" stroke-width="0.75"/>
<polygon points="218.55,533.41 219.49,535.69 222.16,535.80 220.07,537.32 220.78,539.66 218.55,538.32 216.31,539.66 217.02,537.32 214.93,535.80 217.60,535.69" fill="#fff" stroke="#222" stroke-width="0.75"/>
<polygon points="227.46,534.47 228.40,536.75 231.08,536.86 228.99,538.38 229.69,540.72 227.46,539.39 225.23,540.72 225.93,538.38 223.84,536.86 226.52,536.75" fill="#fff" stroke="#222" stroke-width="0.75"/>
<polygon points="236.37,537.87 237.32,540.14 239.99,540.26 237.90,541.77 238.61,544.12 236.37,542.78 234.14,544.12 234.85,541.77 232.76,540.26 235.43,540.14" fill="#fff" stroke="#222" stroke-width="0.75"/>
<polygon points="245.29,540.41 246.23,542.69 248.90,542.80 246.81,544.32 247.52,546.67 245.29,545.33 243.05,546.67 243.76,544.32 241.67,542.80 244.34,542.69" fill="#fff" stroke="#222" stroke-width="0.75"/>
<polygon points="254.20,543.60 255.14,545.87 257.81,545.98 255.72,547.50 256.43,549.85 254.20,548.51 251.96,549.85 252.67,547.50 250.58,545.98 253.26,545.87" fill="#fff" stroke="#222" stroke-width="0.75"/>
<polygon points="263.11,545.93 264.05,548.21 266.73,548.32 264.64,549.84 265.35,552.18 263.11,550.84 260.88,552.18 261.59,549.84 259.50,548.32 262.17,548.21" fill="#fff" stroke="#222" stroke-width="0.75"/>
<polygon points="272.02,549.75 272.97,552.03 275.64,552.14 273.55,553.66 274.26,556.00 272.02,554.66 269.79,556.00 270.50,553.66 268.41,552.14 271.08,552.03" fill="#fff" stroke="#222" stroke-width="0.75"/>
<polygon points="280.94,554.63 281.88,556.91 284.55,557.02 282.46,558.54 283.17,560.88 280.94,559.54 278.70,560.88 279.41,558.54 277.32,557.02 280.00,556.91" fill="#fff" stroke="#222" stroke-width="0.75"/>
<polygon points="289.85,557.60 290.79,559.88 293.47,559.99 291.38,561.51 292.09,563.85 289.85,562.52 287.62,563.85 288.33,561.51 286.24,559.99 288.91,559.88" fill="#fff" stroke="#222" stroke-width="0.75"/>
<polygon points="298.76,556.75 299.71,559.03 302.38,559.14 300.29,560.66 301.00,563.00 298.76,561.67 296.53,563.00 297.24,560.66 295.15,559.14 297.82,559.03" fill="#fff" stroke="#222" stroke-width="0.75"/>
<polygon points="307.68,555.27 308.62,557.54 311.29,557.66 309.20,559.17 309.91,561.52 307.68,560.18 305.44,561.52 306.15,559.17 304.06,557.66 306.73,557.54" fill="#fff" stroke="#222" stroke-width="0.75"/>
<polygon points="316.59,558.03 317.53,560.30 320.21,560.41 318.12,561.93 318.82,564.28 316.59,562.94 314.36,564.28 315.06,561.93 312.97,560.41 315.65,560.30" fill="#fff" stroke="#222" stroke-width="0.75"/>
<polygon points="325.50,563.97 326.45,566.24 329.12,566.36 327.03,567.87 327.74,570.22 325.50,568.88 323.27,570.22 323.98,567.87 321.89,566.36 324.56,566.24" fill="#fff" stroke="#222" stroke-width="0.75"/>
<polygon points="334.42,567.36 335.36,569.64 338.03,569.75 335.94,571.27 336.65,573.61 334.42,572.28 332.18,573.61 332.89,571.27 330.80,569.75 333.47,569.64" fill="#fff" stroke="#222" stroke-width="0.75"/>
<polygon points="343.33,560.15 344.27,562.42 346.94,562.54 344.85,564.05 345.56,566.40 343.33,565.06 341.09,566.40 341.80,564.05 339.71,562.54 342.39,562.42" fill="#fff" stroke="#222" stroke-width="0.75"/>
<path d="M49.20 702.62L52.76 708.78L45.64 708.78Z" fill="#111"/>
<path d="M58.11 701.14L61.68 707.30L54.55 707.30Z" fill="#111"/>
<path d="M67.03 696.05L70.59 702.20L63.46 702.20Z" fill="#111"/>
<path d="M75.94 650.00L79.50 656.15L72.38 656.15Z" fill="#111"/>
<path d="M84.85 638.12L88.42 644.27L81.29 644.27Z" fill="#111"/>
<path d="M93.77 633.66L97.33 639.82L90.20 639.82Z" fill="#111"/>
<path d="M102.68 624.32L106.24 630.48L99.11 630.48Z" fill="#111"/>
<path d="M111.59 610.32L115.16 616.47L108.03 616.47Z" fill="#111"/>
<path d="M120.50 592.70L124.07 598.86L116.94 598.86Z" fill="#111"/>
<path d="M129.42 574.88L132.98 581.04L125.85 581.04Z" fill="#111"/>
<path d="M138.33 559.39L141.89 565.55L134.77 565.55Z" fill="#111"/>
<path d="M147.24 551.96L150.81 558.12L143.68 558.12Z" fill="#111"/>
<path d="M156.16 549.42L159.72 555.57L152.59 555.57Z" fill="#111"/>
<path d="M165.07 547.29L168.63 553.45L161.51 553.45Z" fill="#111"/>
<path d="M173.98 547.51L177.55 553.66L170.42 553.66Z" fill="#111"/>
<path d="M182.89 545.60L186.46 551.75L179.33 551.75Z" fill="#111"/>
<path d="M191.81 543.05L195.37 549.21L188.24 549.21Z" fill="#111"/>
<path d="M200.72 538.81L204.28 544.96L197.16 544.96Z" fill="#111"/>
<path d="M209.63 537.96L213.20 544.11L206.07 544.11Z" fill="#111"/>
<path d="M218.55 538.81L222.11 544.96L214.98 544.96Z" fill="#111"/>
<path d="M227.46 539.23L231.02 545.39L223.90 545.39Z" fill="#111"/>
<path d="M236.37 540.29L239.94 546.45L232.81 546.45Z" fill="#111"/>
<path d="M245.29 541.78L248.85 547.93L241.72 547.93Z" fill="#111"/>
<path d="M254.20 543.69L257.76 549.84L250.64 549.84Z" fill="#111"/>
<path d="M263.11 546.45L266.68 552.60L259.55 552.60Z" fill="#111"/>
<path d="M272.02 548.36L275.59 554.51L268.46 554.51Z" fill="#111"/>
<path d="M280.94 551.11L284.50 557.27L277.37 557.27Z" fill="#111"/>
<path d="M289.85 551.11L293.42 557.27L286.29 557.27Z" fill="#111"/>
<path d="M298.76 550.26L302.33 556.42L295.20 556.42Z" fill="#111"/>
<path d="M307.68 549.42L311.24 555.57L304.11 555.57Z" fill="#111"/>
<path d="M316.59 555.36L320.15 561.51L313.03 561.51Z" fill="#111"/>
<path d="M325.50 562.36L329.07 568.52L321.94 568.52Z" fill="#111"/>
<path d="M334.42 564.91L337.98 571.06L330.85 571.06Z" fill="#111"/>
<path d="M343.33 560.03L346.89 566.18L339.76 566.18Z" fill="#111"/>
</g>
<rect x="49.2" y="495.5" width="288.90000000000003" height="212.20000000000005" fill="none" stroke="#5a5a5a" stroke-width="2.0"/>
<path d="M49.20 707.7v-4M49.20 495.5v4M71.48 707.7v-2.2M71.48 495.5v2.2M93.77 707.7v-4M93.77 495.5v4M116.05 707.7v-2.2M116.05 495.5v2.2M138.33 707.7v-4M138.33 495.5v4M160.61 707.7v-2.2M160.61 495.5v2.2M182.89 707.7v-4M182.89 495.5v4M205.18 707.7v-2.2M205.18 495.5v2.2M227.46 707.7v-4M227.46 495.5v4M249.74 707.7v-2.2M249.74 495.5v2.2M272.02 707.7v-4M272.02 495.5v4M294.31 707.7v-2.2M294.31 495.5v2.2M316.59 707.7v-4M316.59 495.5v4M338.87 707.7v-2.2M338.87 495.5v2.2M49.2 707.70h4M338.1 707.70h-4M49.2 686.48h2.2M338.1 686.48h-2.2M49.2 665.26h4M338.1 665.26h-4M49.2 644.04h2.2M338.1 644.04h-2.2M49.2 622.82h4M338.1 622.82h-4M49.2 601.60h2.2M338.1 601.60h-2.2M49.2 580.38h4M338.1 580.38h-4M49.2 559.16h2.2M338.1 559.16h-2.2M49.2 537.94h4M338.1 537.94h-4M49.2 516.72h2.2M338.1 516.72h-2.2M49.2 495.50h4M338.1 495.50h-4" stroke="#5a5a5a" stroke-width="1.2" fill="none"/>
<text x="42.5" y="715.0" font-size="8.8" text-anchor="end" stroke="#2a2a2a" stroke-width="0.15" >0</text>
<text x="42.5" y="671.5" font-size="8.8" text-anchor="end" stroke="#2a2a2a" stroke-width="0.15" >20</text>
<text x="42.5" y="629.0" font-size="8.8" text-anchor="end" stroke="#2a2a2a" stroke-width="0.15" >40</text>
<text x="42.5" y="586.6" font-size="8.8" text-anchor="end" stroke="#2a2a2a" stroke-width="0.15" >60</text>
<text x="42.5" y="544.1" font-size="8.8" text-anchor="end" stroke="#2a2a2a" stroke-width="0.15" >80</text>
<text x="42.5" y="501.7" font-size="8.8" text-anchor="end" stroke="#2a2a2a" stroke-width="0.15" >100</text>
<text x="48.7" y="719.4" font-size="8.6" text-anchor="middle" stroke="#2a2a2a" stroke-width="0.15" >300</text>
<text x="93.3" y="719.4" font-size="8.6" text-anchor="middle" stroke="#2a2a2a" stroke-width="0.15" >350</text>
<text x="137.8" y="719.4" font-size="8.6" text-anchor="middle" stroke="#2a2a2a" stroke-width="0.15" >400</text>
<text x="182.4" y="719.4" font-size="8.6" text-anchor="middle" stroke="#2a2a2a" stroke-width="0.15" >450</text>
<text x="227.0" y="719.4" font-size="8.6" text-anchor="middle" stroke="#2a2a2a" stroke-width="0.15" >500</text>
<text x="271.5" y="719.4" font-size="8.6" text-anchor="middle" stroke="#2a2a2a" stroke-width="0.15" >550</text>
<text x="316.1" y="719.4" font-size="8.6" text-anchor="middle" stroke="#2a2a2a" stroke-width="0.15" >600</text>
<text x="202.8" y="737.2" font-size="11.6" text-anchor="middle" stroke="#2a2a2a" stroke-width="0.15" >Wavelength(nm)</text>
<text transform="translate(14.4,607) rotate(-90)" font-size="11.7" text-anchor="middle">IQE(%)</text>
<text x="79.7" y="531.2" font-size="14.2" text-anchor="middle" stroke="#2a2a2a" stroke-width="0.05" >(c)</text>
<rect x="272.6" y="658.5" width="57.6" height="41.7" fill="#fff" stroke="#6e6e6e" stroke-width="0.9"/>
<line x1="274.6" y1="664.50" x2="293.1" y2="664.50" stroke="#555" stroke-width="0.8"/>
<rect x="281.20" y="662.20" width="4.60" height="4.60" fill="#111"/>
<text x="329.6" y="665.90" font-size="8.9" text-anchor="end" stroke="#2a2a2a" stroke-width="0.15" >0% EG</text>
<line x1="274.6" y1="674.40" x2="293.1" y2="674.40" stroke="#555" stroke-width="0.8"/>
<ellipse cx="283.50" cy="674.40" rx="2.60" ry="2.30" fill="#fff" stroke="#2a2a2a" stroke-width="0.8"/>
<text x="329.6" y="675.80" font-size="8.9" text-anchor="end" stroke="#2a2a2a" stroke-width="0.15" >0.5% EG</text>
<line x1="274.6" y1="684.30" x2="293.1" y2="684.30" stroke="#555" stroke-width="0.8"/>
<path d="M283.50 681.15L286.80 686.85L280.20 686.85Z" fill="#111"/>
<text x="329.6" y="686.30" font-size="8.9" text-anchor="end" stroke="#2a2a2a" stroke-width="0.15" >1.0% EG</text>
<line x1="274.6" y1="694.20" x2="293.1" y2="694.20" stroke="#555" stroke-width="0.8"/>
<polygon points="283.50,692.00 284.15,693.58 286.01,693.66 284.56,694.71 285.05,696.34 283.50,695.41 281.95,696.34 282.44,694.71 280.99,693.66 282.85,693.58" fill="#fff" stroke="#222" stroke-width="0.75"/>
<text x="329.6" y="697.20" font-size="8.9" text-anchor="end" stroke="#2a2a2a" stroke-width="0.15" >2.0% EG</text>
</svg></body></html>
